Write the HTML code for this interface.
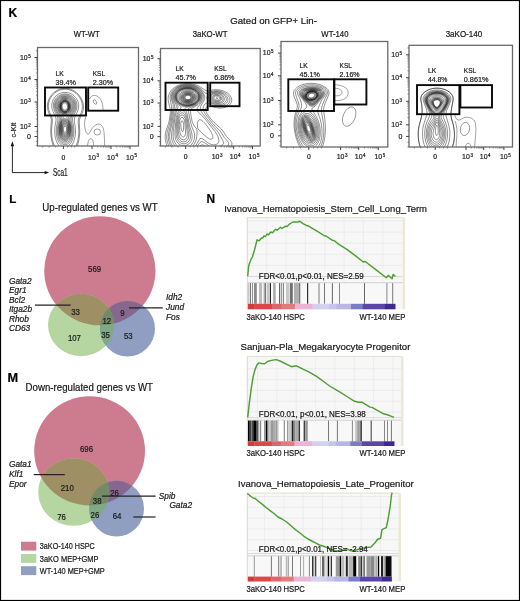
<!DOCTYPE html>
<html><head><meta charset="utf-8"><style>
html,body{margin:0;padding:0;background:#fff;overflow:hidden;width:520px;height:601px;}
#fig{position:relative;width:520px;height:601px;overflow:hidden;background:#fff;}
#fig svg{position:absolute;left:0;top:0;will-change:transform;}
text{font-family:"Liberation Sans",sans-serif;stroke:#222;stroke-width:0.22px;paint-order:stroke;}
</style></head><body><div id="fig">
<svg width="520" height="601" viewBox="0 0 520 601" font-family="Liberation Sans, sans-serif">
<rect x="0" y="0" width="520" height="601" fill="#fff"/>
<clipPath id="c1"><rect x="37.5" y="47.5" width="101.0" height="98.5"/></clipPath><g clip-path="url(#c1)">
<path d="M65.2,110.0 64.2,110.0 63.1,109.2 62.5,108.2 62.1,106.8 62.2,105.4 62.8,104.2 63.6,103.2 64.8,102.9 65.8,103.1 66.6,103.8 67.2,105.0 67.5,106.2 67.4,107.5 66.9,108.8 66.2,109.5 65.2,110.0 M65.5,110.8 64.2,110.8 63.0,110.1 62.0,108.8 61.6,107.2 61.6,105.5 62.2,103.8 63.2,102.6 64.5,102.1 65.8,102.3 66.8,103.0 67.6,104.2 68.0,105.8 68.0,107.5 67.5,109.0 66.5,110.2 65.5,110.8 M65.8,111.5 64.2,111.6 62.8,110.9 61.6,109.2 61.0,107.2 61.1,105.2 61.8,103.2 63.0,101.9 64.5,101.3 66.0,101.6 67.2,102.5 68.2,104.0 68.6,105.8 68.6,107.8 68.0,109.4 67.0,110.8 65.8,111.5 M65.2,111.8 63.8,111.6 62.2,110.6 61.2,108.8 60.8,106.8 61.1,104.5 62.0,102.8 63.2,101.6 64.8,101.2 66.2,101.5 67.5,102.5 68.4,104.2 68.8,106.2 68.6,108.2 67.8,110.0 66.8,111.1 65.2,111.8 M65.5,132.3 64.8,132.4 64.2,132.0 63.6,131.0 63.4,129.8 63.4,128.5 63.8,127.3 64.2,126.6 65.0,126.2 65.5,126.4 66.1,127.0 66.5,127.9 66.7,129.0 66.4,131.0 66.0,131.9 65.5,132.3 M65.0,112.0 63.5,111.7 62.0,110.5 61.0,108.8 60.7,106.5 61.0,104.2 61.9,102.5 63.2,101.4 64.8,100.9 66.2,101.3 67.7,102.5 68.6,104.2 69.0,106.2 68.7,108.5 67.8,110.2 66.5,111.5 65.0,112.0 M65.5,133.5 64.5,133.5 63.8,132.9 63.0,131.5 62.7,129.8 62.8,128.0 63.2,126.4 64.0,125.3 65.0,124.8 65.8,125.1 66.5,125.9 67.0,127.0 67.3,128.8 67.2,130.5 66.9,131.8 66.2,133.0 65.5,133.5 M65.2,112.3 64.2,112.2 63.5,112.0 62.0,110.9 60.9,109.0 60.5,106.8 60.7,104.5 61.6,102.5 63.0,101.2 63.8,100.9 64.8,100.7 66.2,101.0 67.8,102.2 68.8,104.0 69.2,106.0 69.0,108.2 68.1,110.2 66.8,111.7 65.2,112.3 M65.5,134.5 64.8,134.6 64.2,134.4 63.2,133.4 62.5,131.8 62.2,129.8 62.3,127.5 63.0,125.5 63.9,124.2 65.0,123.8 66.0,124.2 66.9,125.2 67.5,126.8 67.8,128.8 67.7,130.8 67.2,132.5 66.5,133.8 65.5,134.5 M65.8,112.5 64.0,112.5 63.0,112.1 62.2,111.5 60.9,109.8 60.3,107.2 60.4,104.8 61.2,102.6 62.8,101.0 64.5,100.4 66.2,100.6 67.8,101.7 68.9,103.5 69.4,105.5 69.3,107.8 68.6,110.0 67.2,111.7 65.8,112.5 M65.8,135.3 65.0,135.4 64.2,135.3 63.1,134.2 62.2,132.5 61.8,130.0 61.9,127.5 62.5,125.2 63.7,123.5 64.2,123.1 65.0,122.9 66.2,123.4 67.2,124.6 68.0,126.5 68.3,128.5 68.2,130.8 67.7,132.8 66.8,134.5 65.8,135.3 M65.2,113.0 64.2,113.0 63.2,112.7 61.7,111.5 61.0,110.5 60.4,109.2 59.9,106.8 60.2,104.2 61.2,102.0 62.8,100.6 63.8,100.1 64.8,100.0 66.5,100.3 67.5,101.0 68.2,101.8 69.3,103.8 69.7,106.0 69.5,108.5 68.5,110.8 67.0,112.3 65.2,113.0 M65.0,136.3 64.2,136.1 63.5,135.6 62.4,134.2 61.6,132.0 61.3,129.2 61.6,126.5 62.4,124.2 63.5,122.7 64.2,122.2 65.0,122.1 65.8,122.2 66.5,122.7 67.6,124.2 68.4,126.5 68.7,129.2 68.4,132.0 67.6,134.2 66.5,135.7 65.8,136.1 65.0,136.3 M66.0,113.3 65.0,113.5 64.0,113.4 63.0,113.0 62.0,112.3 61.2,111.5 60.4,110.2 59.6,107.5 59.7,104.8 60.6,102.2 61.3,101.2 62.2,100.4 63.2,99.8 64.2,99.5 65.2,99.5 66.2,99.8 68.0,100.9 69.3,102.8 70.1,105.2 70.0,108.0 69.1,110.5 67.8,112.3 66.0,113.3 M65.5,137.0 64.5,137.0 63.8,136.7 62.4,135.2 61.3,132.8 60.9,129.8 61.2,126.5 62.0,123.9 63.3,122.0 64.2,121.4 65.0,121.3 65.8,121.4 66.5,121.8 67.8,123.5 68.8,126.0 69.1,128.8 68.9,131.8 68.2,134.2 67.0,136.1 66.2,136.7 65.5,137.0 M65.5,114.0 64.5,114.0 63.2,113.7 62.2,113.2 61.2,112.3 59.8,110.0 59.4,108.5 59.1,107.0 59.1,105.5 59.4,104.0 60.5,101.5 61.3,100.5 62.2,99.8 63.5,99.2 64.5,99.0 65.8,99.1 66.8,99.4 68.6,100.8 69.4,101.8 70.1,103.2 70.6,105.8 70.4,108.5 69.4,111.0 68.5,112.2 67.5,113.1 66.5,113.7 65.5,114.0 M65.8,137.8 64.8,137.9 64.0,137.7 63.0,137.0 62.2,136.1 61.1,133.5 60.5,130.0 60.7,126.8 61.6,123.5 62.3,122.2 63.2,121.2 64.0,120.7 65.0,120.5 66.0,120.7 66.8,121.2 68.1,123.0 69.1,125.8 69.5,128.8 69.4,131.8 68.6,134.5 67.3,136.8 66.5,137.4 65.8,137.8 M65.2,114.8 64.0,114.7 63.0,114.3 61.8,113.5 60.8,112.5 59.9,111.2 59.2,109.8 58.7,108.0 58.5,106.5 58.6,105.0 58.9,103.5 60.1,101.0 61.0,100.0 62.2,99.1 63.5,98.5 64.8,98.4 66.0,98.5 67.2,98.9 68.2,99.5 69.3,100.5 70.7,102.8 71.2,104.2 71.3,105.8 71.3,107.2 70.9,109.0 69.6,111.8 68.6,113.0 67.5,113.9 66.2,114.6 65.2,114.8 M65.2,138.8 64.2,138.7 63.2,138.2 62.3,137.2 61.6,136.2 60.5,133.5 60.1,129.8 60.4,126.0 61.5,122.8 62.2,121.4 63.2,120.3 64.0,119.8 65.0,119.6 65.8,119.7 66.8,120.3 67.7,121.2 68.5,122.5 69.6,125.8 70.0,129.2 69.7,132.8 68.7,135.8 67.2,137.8 66.2,138.5 65.2,138.8 M65.2,115.8 64.0,115.6 62.8,115.0 61.5,114.1 60.2,112.8 59.1,111.0 58.4,109.5 57.9,107.8 57.8,106.2 57.8,104.8 58.2,103.2 58.8,101.8 59.6,100.5 60.8,99.4 62.0,98.5 63.5,97.9 64.8,97.8 66.0,97.9 67.5,98.3 68.8,99.0 69.9,100.0 70.9,101.2 71.7,102.5 72.2,104.0 72.4,105.5 72.3,107.0 71.9,108.8 71.1,110.5 70.1,112.2 69.0,113.6 67.8,114.7 66.5,115.4 65.2,115.8 M65.8,139.6 64.5,139.6 63.5,139.2 62.5,138.5 61.6,137.2 60.8,135.8 60.2,134.0 59.7,130.2 60.0,126.2 60.4,124.5 61.1,122.5 62.0,120.9 63.0,119.6 64.0,118.8 65.0,118.5 65.8,118.7 66.8,119.3 67.8,120.4 68.6,121.8 69.9,125.2 70.4,129.0 70.1,132.8 69.2,136.0 67.8,138.3 66.8,139.1 65.8,139.6 M65.0,140.5 64.0,140.3 63.0,139.8 62.0,138.9 61.2,137.8 59.9,134.8 59.4,131.2 59.4,127.8 60.1,124.2 61.1,121.8 63.3,118.0 63.4,117.2 63.0,116.5 60.1,113.5 58.6,111.2 57.4,108.5 57.0,105.8 57.1,104.0 57.6,102.5 58.4,101.0 59.4,99.8 60.5,98.7 62.0,97.8 63.5,97.3 65.0,97.2 66.5,97.4 68.2,98.0 69.8,98.9 71.0,100.0 72.0,101.2 72.8,102.7 73.2,104.2 73.3,105.8 72.9,108.2 71.7,111.0 70.0,113.5 67.3,116.5 66.8,117.2 67.0,118.2 69.3,122.5 70.3,125.8 70.8,130.0 70.3,134.0 69.4,136.8 68.2,138.7 66.8,140.0 66.0,140.4 65.0,140.5 M66.2,141.5 65.2,141.7 64.2,141.6 62.5,140.7 60.9,138.8 59.6,135.8 58.9,131.8 59.0,127.5 59.6,124.5 61.6,119.2 61.8,117.8 61.1,116.2 58.6,112.8 57.3,110.5 56.5,108.2 56.1,106.0 56.2,104.2 56.7,102.5 57.4,101.0 58.5,99.5 59.8,98.3 61.2,97.4 63.0,96.8 64.8,96.5 66.5,96.6 68.2,97.1 69.8,97.9 71.2,99.0 72.5,100.4 73.4,102.0 74.0,103.8 74.2,105.5 74.0,107.8 73.2,110.0 72.0,112.2 69.0,116.5 68.5,118.0 68.7,119.5 70.4,124.2 71.1,127.5 71.3,131.2 70.8,134.8 70.1,137.2 69.0,139.2 67.8,140.6 66.2,141.5 M66.0,143.1 65.0,143.2 64.0,143.0 63.0,142.6 61.9,141.8 60.2,139.5 58.9,136.5 58.2,132.8 58.2,129.0 58.8,125.2 60.4,119.8 60.5,118.2 59.8,116.2 57.2,112.0 56.2,110.0 55.6,108.0 55.3,106.0 55.4,104.0 55.9,102.2 56.7,100.5 57.8,99.0 59.2,97.7 61.0,96.7 62.8,96.1 64.8,95.8 66.8,95.9 68.5,96.4 70.2,97.2 71.9,98.5 73.2,100.0 74.2,101.8 74.8,103.5 75.0,105.5 74.8,107.8 74.1,110.0 73.1,112.0 70.5,116.2 69.8,118.5 69.9,120.2 71.4,125.5 71.9,128.8 72.0,132.2 71.5,135.8 70.6,138.5 69.2,140.7 67.8,142.2 66.0,143.1 M65.2,144.8 64.0,144.6 63.0,144.2 61.0,142.7 59.3,140.2 58.1,137.0 57.4,133.2 57.3,129.5 57.8,126.0 59.2,120.5 59.3,118.5 58.5,116.0 56.1,111.8 55.2,109.8 54.6,107.8 54.4,105.8 54.6,103.8 55.1,101.8 56.2,99.8 57.5,98.1 59.1,96.8 61.0,95.7 63.0,95.1 65.0,94.9 67.2,95.1 69.2,95.8 71.1,96.8 72.8,98.1 74.1,99.8 75.1,101.8 75.7,103.8 75.9,105.8 75.7,108.0 75.1,110.0 74.2,112.0 71.7,116.2 71.1,118.5 71.1,120.5 72.4,126.0 72.9,129.5 72.8,133.2 72.2,137.0 70.9,140.2 69.2,142.7 67.2,144.2 65.2,144.8 M62.6,146.0 60.8,144.6 59.1,142.5 57.8,139.8 56.8,136.8 56.3,133.2 56.3,129.5 56.6,126.2 57.8,120.8 57.9,118.5 57.2,116.2 54.9,111.8 54.1,109.8 53.5,107.2 53.4,105.0 53.7,102.8 54.4,100.8 55.6,98.8 57.0,97.2 58.8,95.8 60.8,94.7 62.8,94.1 65.0,93.9 67.2,94.1 69.5,94.8 71.5,95.8 73.2,97.2 74.7,98.8 75.9,100.8 76.7,103.0 77.0,105.2 76.9,107.5 76.4,109.8 75.4,112.0 73.1,116.2 72.4,118.8 72.5,120.8 73.6,126.2 73.9,129.5 73.9,133.2 73.4,136.8 72.5,139.8 71.1,142.5 69.5,144.6 67.7,146.0 M59.1,146.0 57.8,144.0 56.7,141.8 55.8,139.2 55.1,136.2 54.8,133.0 54.7,129.5 55.0,126.2 56.0,121.0 56.0,118.8 55.5,116.5 53.2,111.8 52.3,109.5 51.8,107.0 51.9,104.2 52.4,101.8 53.3,99.5 54.7,97.5 56.2,95.8 58.2,94.3 60.2,93.3 62.5,92.6 65.0,92.4 67.5,92.6 69.8,93.2 72.0,94.3 74.0,95.8 75.8,97.7 77.1,99.8 78.1,102.0 78.6,104.5 78.6,107.0 78.1,109.8 77.2,112.2 75.0,116.6 74.4,119.0 74.4,121.2 75.2,126.5 75.5,129.8 75.5,133.2 75.1,136.5 74.4,139.2 73.6,141.8 72.5,144.0 71.2,146.0 M54.4,146.0 52.6,140.5 52.0,137.5 51.7,134.2 51.6,129.2 52.3,121.8 52.3,119.2 51.8,117.2 49.6,112.2 48.7,109.5 48.3,106.2 48.6,103.0 49.4,100.2 50.6,97.8 52.4,95.2 54.5,93.1 57.0,91.4 59.5,90.2 62.2,89.4 65.2,89.2 68.0,89.4 70.8,90.2 73.5,91.5 76.0,93.3 78.2,95.5 80.1,98.2 81.4,101.0 82.2,103.8 82.4,107.0 82.1,110.0 81.2,112.8 78.9,117.5 78.3,119.8 78.2,122.2 78.8,130.0 78.7,134.8 77.8,140.5 76.1,146.0 M53.3,146.0 51.7,140.5 50.8,134.5 50.7,129.8 51.3,122.0 51.3,119.5 50.8,117.5 48.6,112.5 47.7,109.5 47.4,106.2 47.7,103.0 48.6,100.0 49.9,97.2 51.7,94.8 54.0,92.4 56.5,90.6 59.2,89.3 62.0,88.6 65.2,88.3 68.2,88.5 71.2,89.4 74.0,90.8 76.5,92.6 78.9,95.0 80.9,97.8 82.4,100.8 83.2,103.5 83.6,107.0 83.2,110.2 82.3,113.0 80.0,118.0 79.4,120.2 79.3,122.8 79.7,130.2 79.6,135.0 78.8,140.5 77.4,146.0" fill="none" stroke="#1a1a1a" stroke-width="0.5" stroke-opacity="0.95" stroke-linejoin="round"/>
<path d="M89.5,99 C90.5,96.5 92.5,95.3 94.5,95.4 C97.5,95.6 100.5,98 101.8,102 C102.8,105 103,108 103,110 M85.6,117 C84.2,121 84.2,127 85.6,131 C86.6,134 88.2,135.5 89.5,133 C91,129.5 93.5,125.5 97,124.2 C100.5,123.2 103,126 103.8,130.5 C104.4,135 104.6,141 104.6,147 M87.5,147 C87.6,143 88.6,139 90.5,138.6 C92.6,138.3 93.6,142 93.8,147" fill="none" stroke="#444" stroke-width="0.5"/>
<ellipse cx="97.3" cy="132" rx="3.2" ry="3.1" fill="none" stroke="#444" stroke-width="0.5"/>
<ellipse cx="95" cy="102" rx="1.4" ry="2.5" transform="rotate(-32 95 102)" fill="none" stroke="#444" stroke-width="0.5"/>
</g>
<rect x="37.5" y="47.5" width="101.0" height="98.5" fill="none" stroke="#6a6a6a" stroke-width="1.3"/>
<line x1="34.5" y1="57.5" x2="37.5" y2="57.5" stroke="#444" stroke-width="1"/>
<text x="19.98" y="59.90" font-size="7.7" fill="#222" textLength="7.74" lengthAdjust="spacingAndGlyphs">10</text>
<text x="28.27" y="57.73" font-size="4.47" fill="#222">5</text>
<line x1="34.5" y1="79.5" x2="37.5" y2="79.5" stroke="#444" stroke-width="1"/>
<text x="19.98" y="81.90" font-size="7.7" fill="#222" textLength="7.74" lengthAdjust="spacingAndGlyphs">10</text>
<text x="28.27" y="79.73" font-size="4.47" fill="#222">4</text>
<line x1="34.5" y1="102" x2="37.5" y2="102" stroke="#444" stroke-width="1"/>
<text x="19.98" y="104.40" font-size="7.7" fill="#222" textLength="7.74" lengthAdjust="spacingAndGlyphs">10</text>
<text x="28.27" y="102.23" font-size="4.47" fill="#222">3</text>
<line x1="34.5" y1="126.5" x2="37.5" y2="126.5" stroke="#444" stroke-width="1"/>
<text x="19.98" y="128.90" font-size="7.7" fill="#222" textLength="7.74" lengthAdjust="spacingAndGlyphs">10</text>
<text x="28.27" y="126.73" font-size="4.47" fill="#222">2</text>
<line x1="34.5" y1="136.5" x2="37.5" y2="136.5" stroke="#444" stroke-width="1"/>
<text x="31.00" y="139.00" font-size="7.0" text-anchor="end" font-weight="normal" font-style="normal" fill="#222">0</text>
<line x1="35.9" y1="119.12" x2="37.5" y2="119.12" stroke="#666" stroke-width="0.7"/>
<line x1="35.9" y1="114.81" x2="37.5" y2="114.81" stroke="#666" stroke-width="0.7"/>
<line x1="35.9" y1="111.75" x2="37.5" y2="111.75" stroke="#666" stroke-width="0.7"/>
<line x1="35.9" y1="109.38" x2="37.5" y2="109.38" stroke="#666" stroke-width="0.7"/>
<line x1="35.9" y1="107.44" x2="37.5" y2="107.44" stroke="#666" stroke-width="0.7"/>
<line x1="35.9" y1="105.80" x2="37.5" y2="105.80" stroke="#666" stroke-width="0.7"/>
<line x1="35.9" y1="104.37" x2="37.5" y2="104.37" stroke="#666" stroke-width="0.7"/>
<line x1="35.9" y1="103.12" x2="37.5" y2="103.12" stroke="#666" stroke-width="0.7"/>
<line x1="35.9" y1="95.23" x2="37.5" y2="95.23" stroke="#666" stroke-width="0.7"/>
<line x1="35.9" y1="91.26" x2="37.5" y2="91.26" stroke="#666" stroke-width="0.7"/>
<line x1="35.9" y1="88.45" x2="37.5" y2="88.45" stroke="#666" stroke-width="0.7"/>
<line x1="35.9" y1="86.27" x2="37.5" y2="86.27" stroke="#666" stroke-width="0.7"/>
<line x1="35.9" y1="84.49" x2="37.5" y2="84.49" stroke="#666" stroke-width="0.7"/>
<line x1="35.9" y1="82.99" x2="37.5" y2="82.99" stroke="#666" stroke-width="0.7"/>
<line x1="35.9" y1="81.68" x2="37.5" y2="81.68" stroke="#666" stroke-width="0.7"/>
<line x1="35.9" y1="80.53" x2="37.5" y2="80.53" stroke="#666" stroke-width="0.7"/>
<line x1="35.9" y1="72.88" x2="37.5" y2="72.88" stroke="#666" stroke-width="0.7"/>
<line x1="35.9" y1="69.00" x2="37.5" y2="69.00" stroke="#666" stroke-width="0.7"/>
<line x1="35.9" y1="66.25" x2="37.5" y2="66.25" stroke="#666" stroke-width="0.7"/>
<line x1="35.9" y1="64.12" x2="37.5" y2="64.12" stroke="#666" stroke-width="0.7"/>
<line x1="35.9" y1="62.38" x2="37.5" y2="62.38" stroke="#666" stroke-width="0.7"/>
<line x1="35.9" y1="60.91" x2="37.5" y2="60.91" stroke="#666" stroke-width="0.7"/>
<line x1="35.9" y1="59.63" x2="37.5" y2="59.63" stroke="#666" stroke-width="0.7"/>
<line x1="35.9" y1="58.51" x2="37.5" y2="58.51" stroke="#666" stroke-width="0.7"/>
<line x1="35.9" y1="50.88" x2="37.5" y2="50.88" stroke="#666" stroke-width="0.7"/>
<line x1="35.9" y1="131.50" x2="37.5" y2="131.50" stroke="#666" stroke-width="0.7"/>
<line x1="35.9" y1="141.50" x2="37.5" y2="141.50" stroke="#666" stroke-width="0.7"/>
<line x1="35.9" y1="145.50" x2="37.5" y2="145.50" stroke="#666" stroke-width="0.7"/>
<line x1="63.4" y1="146" x2="63.4" y2="149" stroke="#444" stroke-width="1"/>
<line x1="92" y1="146" x2="92" y2="149" stroke="#444" stroke-width="1"/>
<line x1="111" y1="146" x2="111" y2="149" stroke="#444" stroke-width="1"/>
<line x1="130" y1="146" x2="130" y2="149" stroke="#444" stroke-width="1"/>
<line x1="97.72" y1="146" x2="97.72" y2="147.6" stroke="#666" stroke-width="0.7"/>
<line x1="101.07" y1="146" x2="101.07" y2="147.6" stroke="#666" stroke-width="0.7"/>
<line x1="103.44" y1="146" x2="103.44" y2="147.6" stroke="#666" stroke-width="0.7"/>
<line x1="105.28" y1="146" x2="105.28" y2="147.6" stroke="#666" stroke-width="0.7"/>
<line x1="106.78" y1="146" x2="106.78" y2="147.6" stroke="#666" stroke-width="0.7"/>
<line x1="108.06" y1="146" x2="108.06" y2="147.6" stroke="#666" stroke-width="0.7"/>
<line x1="109.16" y1="146" x2="109.16" y2="147.6" stroke="#666" stroke-width="0.7"/>
<line x1="110.13" y1="146" x2="110.13" y2="147.6" stroke="#666" stroke-width="0.7"/>
<line x1="116.72" y1="146" x2="116.72" y2="147.6" stroke="#666" stroke-width="0.7"/>
<line x1="120.07" y1="146" x2="120.07" y2="147.6" stroke="#666" stroke-width="0.7"/>
<line x1="122.44" y1="146" x2="122.44" y2="147.6" stroke="#666" stroke-width="0.7"/>
<line x1="124.28" y1="146" x2="124.28" y2="147.6" stroke="#666" stroke-width="0.7"/>
<line x1="125.78" y1="146" x2="125.78" y2="147.6" stroke="#666" stroke-width="0.7"/>
<line x1="127.06" y1="146" x2="127.06" y2="147.6" stroke="#666" stroke-width="0.7"/>
<line x1="128.16" y1="146" x2="128.16" y2="147.6" stroke="#666" stroke-width="0.7"/>
<line x1="129.13" y1="146" x2="129.13" y2="147.6" stroke="#666" stroke-width="0.7"/>
<line x1="42.68" y1="146" x2="42.68" y2="147.6" stroke="#666" stroke-width="0.7"/>
<line x1="49.16" y1="146" x2="49.16" y2="147.6" stroke="#666" stroke-width="0.7"/>
<line x1="55.63" y1="146" x2="55.63" y2="147.6" stroke="#666" stroke-width="0.7"/>
<line x1="67.69" y1="146" x2="67.69" y2="147.6" stroke="#666" stroke-width="0.7"/>
<line x1="71.27" y1="146" x2="71.27" y2="147.6" stroke="#666" stroke-width="0.7"/>
<line x1="74.84" y1="146" x2="74.84" y2="147.6" stroke="#666" stroke-width="0.7"/>
<text x="63.40" y="159.50" font-size="6.8" text-anchor="middle" font-weight="normal" font-style="normal" fill="#222">0</text>
<text x="88.09" y="159.50" font-size="7.7" fill="#222" textLength="7.74" lengthAdjust="spacingAndGlyphs">10</text>
<text x="96.38" y="157.33" font-size="4.47" fill="#222">3</text>
<text x="107.09" y="159.50" font-size="7.7" fill="#222" textLength="7.74" lengthAdjust="spacingAndGlyphs">10</text>
<text x="115.38" y="157.33" font-size="4.47" fill="#222">4</text>
<text x="126.09" y="159.50" font-size="7.7" fill="#222" textLength="7.74" lengthAdjust="spacingAndGlyphs">10</text>
<text x="134.38" y="157.33" font-size="4.47" fill="#222">5</text>
<rect x="45" y="87.5" width="41" height="28.0" fill="none" stroke="#0a0a0a" stroke-width="1.9"/>
<rect x="88.2" y="87.5" width="30.0" height="23.200000000000003" fill="none" stroke="#0a0a0a" stroke-width="1.9"/>
<text x="55.60" y="75.80" font-size="7.8" text-anchor="start" font-weight="normal" font-style="normal" fill="#1a1a1a" textLength="8.2" lengthAdjust="spacingAndGlyphs">LK</text>
<text x="55.60" y="84.50" font-size="8.0" text-anchor="start" font-weight="normal" font-style="normal" fill="#1a1a1a" textLength="20.4" lengthAdjust="spacingAndGlyphs">39.4%</text>
<text x="92.70" y="75.80" font-size="7.8" text-anchor="start" font-weight="normal" font-style="normal" fill="#1a1a1a" textLength="12.4" lengthAdjust="spacingAndGlyphs">KSL</text>
<text x="92.70" y="84.50" font-size="8.0" text-anchor="start" font-weight="normal" font-style="normal" fill="#1a1a1a" textLength="20.4" lengthAdjust="spacingAndGlyphs">2.30%</text>
<text x="86.80" y="36.60" font-size="8.4" text-anchor="middle" font-weight="normal" font-style="normal" fill="#1a1a1a" textLength="26" lengthAdjust="spacingAndGlyphs">WT-WT</text>
<clipPath id="c2"><rect x="160.5" y="48.5" width="99.69999999999999" height="97.5"/></clipPath><g clip-path="url(#c2)">
<path d="M188.8,99.5 187.0,99.5 186.2,99.2 185.5,98.6 185.1,98.0 185.1,97.2 185.2,96.7 185.8,96.1 186.8,95.5 188.0,95.3 189.2,95.5 190.4,96.2 190.9,97.2 190.7,98.2 190.0,99.0 188.8,99.5 M188.5,100.0 187.2,100.0 186.2,99.8 185.4,99.2 184.7,98.5 184.4,97.8 184.5,96.9 185.0,96.0 185.6,95.5 187.0,94.9 188.8,94.9 190.2,95.4 191.1,96.2 191.5,97.5 191.0,98.8 190.0,99.6 188.5,100.0 M189.5,100.3 188.2,100.5 187.0,100.4 185.8,100.0 184.8,99.4 184.0,98.5 183.8,97.5 184.0,96.5 184.5,95.8 186.0,94.8 187.8,94.4 189.8,94.7 191.2,95.5 192.0,96.8 192.1,97.5 192.0,98.2 191.0,99.5 189.5,100.3 M189.2,100.8 187.8,100.9 186.2,100.7 185.0,100.1 184.0,99.3 183.4,98.2 183.2,97.2 183.5,96.2 184.3,95.2 186.0,94.3 188.2,94.0 190.2,94.4 191.9,95.5 192.4,96.2 192.6,97.0 192.4,98.5 191.2,99.9 189.2,100.8 M188.5,101.3 186.8,101.2 185.2,100.8 184.0,100.0 183.0,98.8 182.7,97.5 182.9,96.2 183.8,95.0 185.0,94.2 187.2,93.5 189.5,93.7 191.5,94.5 192.3,95.2 192.9,96.0 193.1,96.8 193.2,97.8 192.9,98.8 192.4,99.5 190.8,100.7 188.5,101.3 M189.5,101.5 187.5,101.7 185.8,101.4 184.2,100.8 183.0,99.8 182.2,98.5 182.1,97.0 182.5,95.8 183.5,94.5 184.5,93.9 185.8,93.4 188.2,93.0 190.8,93.6 192.0,94.2 192.8,95.0 193.5,96.0 193.8,97.0 193.7,98.0 193.4,99.0 192.8,99.8 191.8,100.7 189.5,101.5 M189.2,102.0 187.2,102.1 185.2,101.7 183.5,100.9 182.3,99.8 181.5,98.2 181.5,96.8 182.1,95.2 183.3,94.0 184.5,93.3 185.8,92.8 187.2,92.6 188.8,92.6 190.2,92.9 191.5,93.4 192.8,94.2 193.5,95.0 194.1,96.0 194.4,97.0 194.2,98.2 193.8,99.2 193.0,100.2 192.0,101.0 190.8,101.6 189.2,102.0 M189.0,102.5 186.8,102.5 184.5,102.0 182.8,101.0 181.4,99.5 180.8,98.0 180.8,96.2 181.8,94.5 183.2,93.2 184.5,92.6 186.2,92.1 187.8,92.0 189.5,92.1 191.0,92.5 192.2,93.1 193.5,94.0 194.3,95.0 194.9,96.2 195.0,97.5 194.7,98.8 194.2,99.8 193.3,100.8 192.0,101.6 190.5,102.2 189.0,102.5 M188.8,103.0 186.0,102.9 183.8,102.3 181.8,101.0 180.4,99.2 179.9,97.5 180.2,95.5 181.3,93.8 183.2,92.4 185.0,91.7 186.5,91.4 188.2,91.3 190.0,91.5 191.8,92.1 193.2,92.9 194.5,94.0 195.2,95.0 195.6,96.2 195.7,97.8 195.4,99.0 194.6,100.2 193.5,101.3 192.0,102.2 190.5,102.7 188.8,103.0 M189.2,103.5 186.2,103.5 183.5,102.8 181.2,101.5 179.7,99.8 179.0,97.8 178.9,96.5 179.1,95.5 180.2,93.5 182.0,92.0 183.8,91.2 185.5,90.7 187.5,90.5 189.5,90.6 191.5,91.1 193.2,91.9 194.6,93.0 195.7,94.2 196.4,95.8 196.5,97.2 196.3,98.5 195.6,100.0 194.5,101.2 193.0,102.3 191.2,103.1 189.2,103.5 M188.2,104.3 185.0,104.1 182.0,103.0 179.6,101.2 178.6,100.0 178.0,98.8 177.7,97.5 177.7,96.2 178.0,95.0 178.5,93.8 179.3,92.8 180.5,91.6 183.2,90.2 185.2,89.7 187.5,89.5 189.8,89.6 191.8,90.1 193.8,91.1 195.2,92.1 196.5,93.5 197.2,95.0 197.5,96.5 197.4,98.2 196.8,99.8 195.6,101.2 194.2,102.4 192.5,103.3 190.5,103.9 188.2,104.3 M189.5,104.8 185.8,104.9 182.8,104.3 180.0,102.8 178.9,101.8 177.8,100.5 177.1,99.2 176.7,98.0 176.6,96.5 176.8,95.2 177.2,94.0 178.0,92.8 179.0,91.6 180.2,90.7 182.2,89.6 184.8,88.9 187.2,88.6 189.8,88.8 192.0,89.3 194.2,90.3 196.0,91.6 197.4,93.2 198.3,95.0 198.5,97.0 198.2,98.8 197.3,100.5 195.9,102.0 194.0,103.3 192.0,104.2 189.5,104.8 M182.8,131.6 182.5,131.6 182.0,131.2 181.5,130.1 181.0,128.1 180.8,126.0 180.8,123.8 181.0,122.2 181.5,121.1 182.0,120.7 182.5,120.9 183.0,121.8 183.5,123.2 183.7,125.0 183.5,129.8 183.2,131.0 182.8,131.6 M189.5,105.0 185.8,105.2 182.8,104.6 181.2,103.9 179.8,103.0 178.4,101.8 177.4,100.5 176.8,99.2 176.4,98.0 176.2,96.5 176.4,95.2 176.8,94.0 177.6,92.8 178.7,91.5 180.0,90.5 182.0,89.4 184.5,88.7 187.0,88.4 189.8,88.5 192.2,89.1 194.5,90.1 196.2,91.4 197.7,93.0 198.5,94.8 198.8,96.8 198.5,98.8 197.6,100.5 196.2,102.0 194.2,103.5 192.0,104.4 189.5,105.0 M183.8,136.9 183.0,137.0 182.2,136.7 181.5,136.1 180.9,135.2 180.0,132.8 179.5,129.2 179.3,124.5 179.7,120.8 180.2,119.2 180.8,118.1 181.2,117.6 182.0,117.3 183.0,117.7 184.0,119.3 184.7,121.8 185.1,125.0 185.5,131.0 185.5,133.8 184.9,135.8 184.5,136.3 183.8,136.9 M187.8,105.5 185.5,105.5 183.5,105.2 181.8,104.6 180.0,103.6 178.4,102.2 177.2,100.8 176.3,99.2 175.9,97.5 175.9,95.8 176.3,94.2 177.1,92.8 178.2,91.5 179.5,90.4 181.2,89.4 183.2,88.7 185.5,88.2 188.0,88.1 190.2,88.3 192.5,88.9 194.5,89.8 196.3,91.0 197.8,92.5 198.6,94.0 199.2,95.8 199.2,97.5 198.7,99.2 197.7,101.0 196.2,102.5 194.5,103.7 192.5,104.6 190.2,105.2 187.8,105.5 M217.5,98.5 216.8,98.7 216.3,98.5 216.2,98.0 216.5,97.7 217.2,97.7 217.6,98.0 217.5,98.5 M184.0,139.8 183.0,139.8 182.0,139.5 181.0,138.9 180.2,138.0 179.5,136.8 179.0,135.4 178.4,131.8 178.3,124.8 178.8,119.8 179.2,117.9 180.0,116.2 181.0,115.2 182.0,114.8 183.0,115.1 183.8,115.7 184.5,117.0 185.2,118.8 185.8,122.0 187.3,133.0 187.3,135.5 186.7,137.5 185.6,139.0 184.9,139.5 184.0,139.8 M188.8,105.8 184.8,105.9 183.2,105.6 181.8,105.1 180.0,104.1 178.3,102.8 177.0,101.2 176.1,99.8 175.6,98.2 175.4,96.8 175.6,95.2 176.1,93.8 176.8,92.5 178.0,91.2 179.2,90.2 181.0,89.2 183.2,88.3 186.0,87.8 188.8,87.8 191.5,88.3 194.0,89.2 196.0,90.3 197.8,92.0 199.0,93.8 199.6,95.8 199.5,97.8 198.9,99.8 197.7,101.5 196.0,103.1 193.8,104.4 191.5,105.2 188.8,105.8 M218.2,100.0 216.5,100.2 214.9,99.5 214.4,99.0 214.0,98.2 214.1,97.5 214.3,97.0 215.2,96.3 216.2,96.1 217.5,96.2 218.6,96.8 219.3,97.5 219.6,98.5 219.1,99.5 218.2,100.0 M184.8,141.8 183.2,141.9 182.0,141.7 180.8,141.0 179.8,140.1 178.9,139.0 178.2,137.5 177.7,135.8 177.4,133.8 177.3,130.2 177.3,124.8 177.6,121.5 178.0,118.7 178.8,116.2 179.7,114.2 180.8,113.2 182.0,112.7 183.0,112.9 184.0,113.7 185.0,115.2 185.8,117.1 186.5,120.2 188.8,134.2 188.7,137.0 188.0,139.1 186.7,140.8 185.8,141.4 184.8,141.8 M185.8,106.5 183.2,106.4 181.2,105.6 178.8,103.8 176.7,101.5 175.4,99.2 175.0,97.2 175.1,95.2 175.8,93.2 177.1,91.5 179.0,89.9 181.2,88.7 183.8,87.9 186.8,87.5 189.5,87.5 192.2,88.1 194.8,89.1 196.2,90.0 197.7,91.2 198.7,92.5 199.6,94.0 200.0,95.5 200.1,97.0 199.9,98.5 199.3,100.0 198.5,101.2 197.2,102.6 196.0,103.6 194.2,104.6 190.5,105.8 185.8,106.5 M217.8,101.0 216.5,101.0 215.2,100.7 214.2,100.1 213.5,99.4 213.0,98.5 212.9,97.5 213.2,96.8 213.8,96.0 215.5,95.3 217.2,95.3 219.0,95.9 220.2,97.0 220.7,98.2 220.4,99.5 219.4,100.5 217.8,101.0 M184.5,143.8 183.0,143.8 181.5,143.4 180.0,142.6 178.8,141.5 177.8,140.1 177.0,138.5 176.5,136.8 176.2,134.5 176.2,130.8 176.5,123.5 176.9,120.0 177.4,117.2 178.2,114.5 179.2,112.5 180.5,111.1 182.0,110.5 183.2,110.7 184.3,111.5 185.3,113.0 186.3,115.2 187.1,118.2 188.5,126.2 190.1,132.8 190.4,135.0 190.3,138.0 189.8,139.5 189.1,140.8 188.2,141.9 187.2,142.8 186.0,143.4 184.5,143.8 M185.5,145.5 183.8,145.7 182.0,145.5 180.5,145.0 179.0,144.1 177.8,143.0 176.7,141.5 175.8,139.8 175.3,138.0 174.9,135.5 174.9,132.2 175.7,122.2 176.3,117.5 177.0,114.5 178.0,112.0 179.0,110.2 180.8,108.0 181.0,107.5 180.6,106.5 177.2,103.1 175.7,101.0 174.6,98.5 174.4,96.2 174.8,94.2 175.7,92.5 177.0,90.9 178.8,89.5 180.8,88.4 183.2,87.6 185.8,87.1 188.5,87.1 191.0,87.4 193.5,88.1 195.5,89.0 197.3,90.2 198.8,91.8 199.9,93.5 200.5,95.2 200.6,97.0 200.3,98.8 199.4,100.8 198.2,102.3 196.5,103.8 194.8,104.8 193.0,105.6 186.2,107.4 185.3,107.8 184.9,108.2 185.0,109.0 186.5,112.1 187.5,115.2 189.4,125.0 191.8,133.0 192.2,136.2 192.1,138.0 191.7,139.5 191.1,141.0 190.4,142.2 189.5,143.3 188.2,144.3 187.0,145.0 185.5,145.5 M218.0,101.8 216.5,101.7 215.0,101.4 213.8,100.7 212.7,99.8 212.1,98.8 211.9,97.5 212.2,96.5 213.1,95.5 215.0,94.6 217.2,94.6 219.5,95.4 221.0,96.6 221.7,98.2 221.6,99.2 221.3,100.0 220.0,101.2 218.0,101.8 M177.7,146.0 175.9,144.2 174.5,142.0 173.6,139.5 173.1,136.8 173.2,132.5 175.0,117.2 176.1,112.5 178.1,106.8 177.7,105.2 175.2,101.8 174.2,99.8 173.6,97.5 173.7,95.5 174.2,93.8 175.2,92.0 176.5,90.5 178.2,89.1 180.5,87.9 182.5,87.2 185.0,86.7 187.5,86.5 190.0,86.7 192.5,87.2 195.0,88.1 197.2,89.4 199.1,91.0 200.4,92.8 201.1,94.5 201.5,96.5 201.3,98.2 200.6,100.2 199.7,101.8 198.2,103.4 196.8,104.6 195.0,105.6 189.0,108.0 188.4,108.5 188.2,109.0 188.2,110.2 190.8,123.3 191.8,126.5 193.9,131.8 194.4,133.5 194.6,135.5 194.4,138.5 193.5,141.5 192.0,144.0 190.1,146.0 M217.8,102.8 215.8,102.5 214.0,101.9 212.5,101.0 211.4,99.8 210.8,98.2 210.9,96.8 211.5,95.5 212.7,94.5 214.0,93.9 215.2,93.7 218.0,93.8 219.5,94.3 220.8,95.0 221.7,95.8 222.5,96.8 223.0,97.8 223.1,98.8 223.0,99.8 222.5,100.8 221.7,101.5 220.5,102.2 219.2,102.6 217.8,102.8 M175.1,146.0 173.6,144.0 172.5,141.8 171.8,139.2 171.5,136.8 171.7,133.0 172.9,125.5 174.1,116.5 176.4,106.2 176.1,104.8 174.1,101.2 173.3,99.5 172.9,97.2 173.1,95.0 173.7,93.2 174.8,91.5 176.2,89.9 178.0,88.6 180.2,87.4 182.5,86.7 185.0,86.2 187.5,86.0 190.2,86.2 193.0,86.8 195.2,87.6 197.5,88.9 199.4,90.5 200.8,92.2 201.8,94.2 202.2,96.0 202.2,97.8 201.9,99.2 201.1,101.0 199.9,102.8 198.5,104.2 196.8,105.6 191.4,108.5 190.9,109.0 190.6,109.8 190.5,111.2 190.8,114.2 191.5,118.5 192.2,121.7 193.0,123.7 193.8,125.1 196.7,129.0 197.1,131.0 196.9,135.8 196.2,139.8 194.8,143.2 192.8,146.0 M219.0,103.5 216.5,103.5 214.2,102.9 212.2,101.8 210.9,100.5 209.9,98.8 209.8,97.2 210.3,95.8 211.3,94.5 212.5,93.7 214.0,93.2 215.8,92.9 217.5,93.0 219.2,93.4 220.8,94.1 222.2,95.0 223.2,96.0 224.0,97.2 224.4,98.5 224.3,99.8 224.0,100.8 223.2,101.8 222.0,102.6 220.8,103.2 219.0,103.5 M211.8,139.0 210.8,139.2 209.8,139.0 207.2,137.6 203.9,134.8 199.1,130.2 198.1,129.0 197.5,127.2 197.4,123.8 197.8,121.5 198.2,120.6 198.8,120.1 199.5,119.8 200.5,119.9 201.8,120.4 203.0,121.4 205.5,124.0 209.0,128.8 211.5,132.8 212.7,135.5 212.9,136.8 212.8,137.8 212.4,138.5 211.8,139.0 M172.5,146.0 171.2,143.8 170.3,141.5 169.8,139.0 169.6,136.5 169.9,133.0 171.8,124.3 174.5,106.5 174.5,105.2 174.3,104.2 172.7,100.5 172.2,98.8 172.0,96.8 172.2,95.0 172.9,93.0 174.0,91.2 175.5,89.6 177.5,88.1 179.8,86.9 182.2,86.1 184.8,85.6 187.5,85.4 192.0,85.9 194.0,86.4 196.2,87.4 198.0,88.4 199.8,89.7 201.2,91.2 202.2,92.8 202.9,94.2 203.3,96.0 203.4,97.5 203.1,99.0 202.6,100.5 201.6,102.2 197.4,107.8 197.1,109.0 197.2,110.5 198.3,112.2 202.8,116.5 205.2,119.2 215.4,132.0 217.6,135.8 218.4,138.0 218.9,140.0 218.8,142.0 218.4,142.8 217.8,143.6 215.8,144.6 213.2,144.9 211.5,144.5 209.5,143.7 207.5,142.5 203.0,139.1 201.8,138.5 200.8,138.4 200.0,138.8 199.2,139.6 196.8,144.0 195.5,146.0 M220.5,104.5 217.8,104.6 215.0,104.1 212.5,103.1 210.5,101.7 209.1,100.0 208.4,98.0 208.7,96.2 209.8,94.5 211.2,93.3 212.8,92.7 214.8,92.2 216.8,92.1 218.8,92.4 221.0,93.1 222.8,94.1 224.2,95.2 225.3,96.5 226.1,98.0 226.4,99.5 226.1,101.0 225.3,102.2 224.0,103.3 222.2,104.1 220.5,104.5 M170.8,146.0 169.7,143.8 168.9,141.5 168.4,139.0 168.3,136.5 168.8,132.0 170.5,125.5 171.2,121.8 173.1,108.0 173.2,106.0 173.1,104.5 171.7,100.2 171.3,98.2 171.3,96.2 171.6,94.5 172.4,92.5 173.6,90.8 175.2,89.1 177.2,87.6 179.8,86.4 182.0,85.6 184.8,85.1 187.5,84.9 190.0,85.1 192.2,85.4 194.8,86.2 197.0,87.1 199.0,88.4 200.7,89.8 202.2,91.5 203.3,93.2 204.6,96.2 204.7,97.5 204.7,98.5 203.8,100.8 201.3,105.0 200.6,106.5 200.3,108.2 200.6,110.0 201.4,111.8 202.8,113.8 211.5,124.7 217.4,131.2 219.6,134.5 223.1,141.2 223.6,142.8 223.5,143.8 223.0,144.5 222.1,145.2 220.8,146.0 M220.8,105.5 217.8,105.5 214.8,104.9 211.8,103.6 209.4,102.0 207.6,100.0 206.9,98.2 207.2,96.5 208.2,94.8 209.8,93.4 211.8,92.3 214.0,91.7 216.2,91.5 218.5,91.7 221.0,92.4 223.2,93.4 225.2,94.8 226.7,96.2 227.7,98.0 228.0,99.8 227.7,101.5 226.7,103.0 225.1,104.2 223.0,105.1 220.8,105.5 M209.3,146.0 203.8,142.3 202.8,141.8 201.8,141.7 200.8,141.9 200.0,142.5 197.4,146.0 M169.0,146.0 168.0,143.8 167.2,141.2 166.8,138.8 166.7,136.2 166.9,134.0 167.4,131.5 169.5,124.6 170.2,121.4 171.5,112.3 171.7,109.0 171.5,106.2 170.1,98.5 170.1,96.5 170.4,94.8 171.4,92.5 172.7,90.5 174.5,88.7 176.8,87.1 179.2,85.9 181.5,85.1 184.2,84.5 187.5,84.3 190.0,84.4 192.8,84.9 195.2,85.6 197.5,86.6 200.8,88.7 204.8,92.6 205.8,93.3 207.0,93.3 210.8,91.7 213.2,91.0 215.8,90.7 218.5,90.8 221.8,91.6 224.8,92.9 227.1,94.5 228.8,96.5 229.5,97.8 229.9,99.2 229.9,100.5 229.6,101.8 229.0,103.0 228.2,104.0 227.0,105.0 225.8,105.7 224.0,106.3 222.0,106.7 220.0,106.8 217.8,106.7 214.2,105.9 208.2,103.4 206.5,103.2 205.3,103.8 204.2,105.0 203.5,106.5 203.2,108.2 203.3,109.8 203.9,111.5 205.0,113.5 207.0,116.2 212.5,123.3 219.9,130.8 221.4,132.8 224.3,137.5 228.2,142.0 228.6,143.0 228.7,144.0 228.3,145.0 227.5,146.0 M205.3,146.0 203.5,145.1 202.2,144.8 201.0,145.1 199.9,146.0 M167.2,146.0 166.2,143.5 165.6,141.2 165.2,138.8 165.2,136.2 165.4,133.8 166.0,131.0 168.5,123.6 169.2,120.8 170.2,114.2 170.3,111.2 170.2,108.8 168.5,102.2 168.2,99.8 168.2,97.2 168.8,94.8 169.8,92.5 171.4,90.2 173.4,88.2 175.8,86.6 178.8,85.1 181.8,84.2 184.8,83.6 187.8,83.5 192.2,83.9 196.8,85.1 199.8,86.6 204.8,90.0 206.5,90.7 208.5,90.8 213.2,89.9 216.0,89.7 219.0,89.9 222.2,90.6 224.8,91.5 227.0,92.8 228.9,94.2 230.4,96.0 231.2,97.5 231.6,99.0 231.7,100.5 231.5,101.8 231.0,103.0 230.2,104.2 229.0,105.4 227.5,106.4 225.8,107.2 224.0,107.7 220.0,108.1 216.5,107.7 210.2,106.1 208.2,106.0 207.2,106.4 206.3,107.2 205.8,108.2 205.7,109.5 206.0,111.2 206.9,113.2 208.5,115.8 211.0,119.1 214.2,122.7 219.5,127.3 221.5,129.2 223.1,131.2 226.5,136.5 231.0,141.2 231.7,142.5 232.0,143.8 231.8,145.0 231.2,146.0" fill="none" stroke="#1a1a1a" stroke-width="0.5" stroke-opacity="0.95" stroke-linejoin="round"/>
</g>
<rect x="160.5" y="48.5" width="99.69999999999999" height="97.5" fill="none" stroke="#6a6a6a" stroke-width="1.3"/>
<line x1="157.5" y1="58.8" x2="160.5" y2="58.8" stroke="#444" stroke-width="1"/>
<text x="142.68" y="61.20" font-size="7.7" fill="#222" textLength="7.74" lengthAdjust="spacingAndGlyphs">10</text>
<text x="150.97" y="59.03" font-size="4.47" fill="#222">5</text>
<line x1="157.5" y1="80.8" x2="160.5" y2="80.8" stroke="#444" stroke-width="1"/>
<text x="142.68" y="83.20" font-size="7.7" fill="#222" textLength="7.74" lengthAdjust="spacingAndGlyphs">10</text>
<text x="150.97" y="81.03" font-size="4.47" fill="#222">4</text>
<line x1="157.5" y1="103" x2="160.5" y2="103" stroke="#444" stroke-width="1"/>
<text x="142.68" y="105.40" font-size="7.7" fill="#222" textLength="7.74" lengthAdjust="spacingAndGlyphs">10</text>
<text x="150.97" y="103.23" font-size="4.47" fill="#222">3</text>
<line x1="157.5" y1="126.4" x2="160.5" y2="126.4" stroke="#444" stroke-width="1"/>
<text x="142.68" y="128.80" font-size="7.7" fill="#222" textLength="7.74" lengthAdjust="spacingAndGlyphs">10</text>
<text x="150.97" y="126.63" font-size="4.47" fill="#222">2</text>
<line x1="157.5" y1="136.6" x2="160.5" y2="136.6" stroke="#444" stroke-width="1"/>
<text x="153.70" y="139.10" font-size="7.0" text-anchor="end" font-weight="normal" font-style="normal" fill="#222">0</text>
<line x1="158.9" y1="119.36" x2="160.5" y2="119.36" stroke="#666" stroke-width="0.7"/>
<line x1="158.9" y1="115.24" x2="160.5" y2="115.24" stroke="#666" stroke-width="0.7"/>
<line x1="158.9" y1="112.31" x2="160.5" y2="112.31" stroke="#666" stroke-width="0.7"/>
<line x1="158.9" y1="110.04" x2="160.5" y2="110.04" stroke="#666" stroke-width="0.7"/>
<line x1="158.9" y1="108.19" x2="160.5" y2="108.19" stroke="#666" stroke-width="0.7"/>
<line x1="158.9" y1="106.62" x2="160.5" y2="106.62" stroke="#666" stroke-width="0.7"/>
<line x1="158.9" y1="105.27" x2="160.5" y2="105.27" stroke="#666" stroke-width="0.7"/>
<line x1="158.9" y1="104.07" x2="160.5" y2="104.07" stroke="#666" stroke-width="0.7"/>
<line x1="158.9" y1="96.32" x2="160.5" y2="96.32" stroke="#666" stroke-width="0.7"/>
<line x1="158.9" y1="92.41" x2="160.5" y2="92.41" stroke="#666" stroke-width="0.7"/>
<line x1="158.9" y1="89.63" x2="160.5" y2="89.63" stroke="#666" stroke-width="0.7"/>
<line x1="158.9" y1="87.48" x2="160.5" y2="87.48" stroke="#666" stroke-width="0.7"/>
<line x1="158.9" y1="85.73" x2="160.5" y2="85.73" stroke="#666" stroke-width="0.7"/>
<line x1="158.9" y1="84.24" x2="160.5" y2="84.24" stroke="#666" stroke-width="0.7"/>
<line x1="158.9" y1="82.95" x2="160.5" y2="82.95" stroke="#666" stroke-width="0.7"/>
<line x1="158.9" y1="81.82" x2="160.5" y2="81.82" stroke="#666" stroke-width="0.7"/>
<line x1="158.9" y1="74.18" x2="160.5" y2="74.18" stroke="#666" stroke-width="0.7"/>
<line x1="158.9" y1="70.30" x2="160.5" y2="70.30" stroke="#666" stroke-width="0.7"/>
<line x1="158.9" y1="67.55" x2="160.5" y2="67.55" stroke="#666" stroke-width="0.7"/>
<line x1="158.9" y1="65.42" x2="160.5" y2="65.42" stroke="#666" stroke-width="0.7"/>
<line x1="158.9" y1="63.68" x2="160.5" y2="63.68" stroke="#666" stroke-width="0.7"/>
<line x1="158.9" y1="62.21" x2="160.5" y2="62.21" stroke="#666" stroke-width="0.7"/>
<line x1="158.9" y1="60.93" x2="160.5" y2="60.93" stroke="#666" stroke-width="0.7"/>
<line x1="158.9" y1="59.81" x2="160.5" y2="59.81" stroke="#666" stroke-width="0.7"/>
<line x1="158.9" y1="52.18" x2="160.5" y2="52.18" stroke="#666" stroke-width="0.7"/>
<line x1="158.9" y1="131.50" x2="160.5" y2="131.50" stroke="#666" stroke-width="0.7"/>
<line x1="158.9" y1="141.70" x2="160.5" y2="141.70" stroke="#666" stroke-width="0.7"/>
<line x1="158.9" y1="145.78" x2="160.5" y2="145.78" stroke="#666" stroke-width="0.7"/>
<line x1="185.7" y1="146" x2="185.7" y2="149" stroke="#444" stroke-width="1"/>
<line x1="215.6" y1="146" x2="215.6" y2="149" stroke="#444" stroke-width="1"/>
<line x1="233.7" y1="146" x2="233.7" y2="149" stroke="#444" stroke-width="1"/>
<line x1="252.5" y1="146" x2="252.5" y2="149" stroke="#444" stroke-width="1"/>
<line x1="221.05" y1="146" x2="221.05" y2="147.6" stroke="#666" stroke-width="0.7"/>
<line x1="224.24" y1="146" x2="224.24" y2="147.6" stroke="#666" stroke-width="0.7"/>
<line x1="226.50" y1="146" x2="226.50" y2="147.6" stroke="#666" stroke-width="0.7"/>
<line x1="228.25" y1="146" x2="228.25" y2="147.6" stroke="#666" stroke-width="0.7"/>
<line x1="229.68" y1="146" x2="229.68" y2="147.6" stroke="#666" stroke-width="0.7"/>
<line x1="230.90" y1="146" x2="230.90" y2="147.6" stroke="#666" stroke-width="0.7"/>
<line x1="231.95" y1="146" x2="231.95" y2="147.6" stroke="#666" stroke-width="0.7"/>
<line x1="232.87" y1="146" x2="232.87" y2="147.6" stroke="#666" stroke-width="0.7"/>
<line x1="239.36" y1="146" x2="239.36" y2="147.6" stroke="#666" stroke-width="0.7"/>
<line x1="242.67" y1="146" x2="242.67" y2="147.6" stroke="#666" stroke-width="0.7"/>
<line x1="245.02" y1="146" x2="245.02" y2="147.6" stroke="#666" stroke-width="0.7"/>
<line x1="246.84" y1="146" x2="246.84" y2="147.6" stroke="#666" stroke-width="0.7"/>
<line x1="248.33" y1="146" x2="248.33" y2="147.6" stroke="#666" stroke-width="0.7"/>
<line x1="249.59" y1="146" x2="249.59" y2="147.6" stroke="#666" stroke-width="0.7"/>
<line x1="250.68" y1="146" x2="250.68" y2="147.6" stroke="#666" stroke-width="0.7"/>
<line x1="251.64" y1="146" x2="251.64" y2="147.6" stroke="#666" stroke-width="0.7"/>
<line x1="165.54" y1="146" x2="165.54" y2="147.6" stroke="#666" stroke-width="0.7"/>
<line x1="171.84" y1="146" x2="171.84" y2="147.6" stroke="#666" stroke-width="0.7"/>
<line x1="178.14" y1="146" x2="178.14" y2="147.6" stroke="#666" stroke-width="0.7"/>
<line x1="190.19" y1="146" x2="190.19" y2="147.6" stroke="#666" stroke-width="0.7"/>
<line x1="193.92" y1="146" x2="193.92" y2="147.6" stroke="#666" stroke-width="0.7"/>
<line x1="197.66" y1="146" x2="197.66" y2="147.6" stroke="#666" stroke-width="0.7"/>
<text x="185.70" y="159.00" font-size="6.8" text-anchor="middle" font-weight="normal" font-style="normal" fill="#222">0</text>
<text x="211.69" y="159.00" font-size="7.7" fill="#222" textLength="7.74" lengthAdjust="spacingAndGlyphs">10</text>
<text x="219.98" y="156.83" font-size="4.47" fill="#222">3</text>
<text x="229.79" y="159.00" font-size="7.7" fill="#222" textLength="7.74" lengthAdjust="spacingAndGlyphs">10</text>
<text x="238.08" y="156.83" font-size="4.47" fill="#222">4</text>
<text x="248.59" y="159.00" font-size="7.7" fill="#222" textLength="7.74" lengthAdjust="spacingAndGlyphs">10</text>
<text x="256.88" y="156.83" font-size="4.47" fill="#222">5</text>
<rect x="165.5" y="82.7" width="42.19999999999999" height="27.299999999999997" fill="none" stroke="#0a0a0a" stroke-width="1.9"/>
<rect x="210.2" y="82.7" width="29.30000000000001" height="23.5" fill="none" stroke="#0a0a0a" stroke-width="1.9"/>
<text x="175.60" y="71.10" font-size="7.8" text-anchor="start" font-weight="normal" font-style="normal" fill="#1a1a1a" textLength="8.2" lengthAdjust="spacingAndGlyphs">LK</text>
<text x="175.60" y="80.00" font-size="8.0" text-anchor="start" font-weight="normal" font-style="normal" fill="#1a1a1a" textLength="20.3" lengthAdjust="spacingAndGlyphs">45.7%</text>
<text x="214.20" y="71.10" font-size="7.8" text-anchor="start" font-weight="normal" font-style="normal" fill="#1a1a1a" textLength="12.4" lengthAdjust="spacingAndGlyphs">KSL</text>
<text x="214.20" y="80.00" font-size="8.0" text-anchor="start" font-weight="normal" font-style="normal" fill="#1a1a1a" textLength="20.3" lengthAdjust="spacingAndGlyphs">6.86%</text>
<text x="210.10" y="36.60" font-size="8.4" text-anchor="middle" font-weight="normal" font-style="normal" fill="#1a1a1a" textLength="34.8" lengthAdjust="spacingAndGlyphs">3aKO-WT</text>
<clipPath id="c3"><rect x="281" y="41.5" width="106.80000000000001" height="105.5"/></clipPath><g clip-path="url(#c3)">
<path d="M312.0,97.8 310.8,97.9 309.5,97.6 308.8,96.9 308.4,96.0 308.6,95.0 309.5,94.0 310.5,93.5 312.0,93.2 313.0,93.4 313.9,93.8 314.5,94.5 314.6,95.2 314.4,96.0 313.9,96.8 313.0,97.4 312.0,97.8 M312.2,98.3 311.0,98.5 309.8,98.3 308.6,97.8 307.9,97.0 307.7,96.0 307.9,95.0 308.6,94.0 309.7,93.2 311.2,92.7 313.0,92.8 314.3,93.2 315.2,94.2 315.3,95.5 314.8,96.7 313.8,97.6 312.2,98.3 M311.2,99.0 309.2,98.8 308.2,98.3 307.6,97.8 307.2,97.0 307.0,96.2 307.3,94.8 308.5,93.4 310.5,92.4 312.5,92.1 314.5,92.6 315.4,93.2 316.0,94.2 316.1,95.2 315.8,96.2 315.1,97.2 314.0,98.1 312.8,98.7 311.2,99.0 M312.0,99.5 309.8,99.5 307.8,98.7 307.0,98.0 306.5,97.2 306.2,96.2 306.3,95.2 306.8,94.2 307.4,93.5 309.2,92.2 311.8,91.6 314.0,91.8 315.2,92.3 316.3,93.2 316.9,94.5 316.8,95.8 316.2,97.0 315.0,98.2 313.5,99.1 312.0,99.5 M312.2,99.6 310.0,99.7 308.0,99.0 307.1,98.2 306.5,97.5 306.2,96.8 306.2,95.8 306.4,94.8 306.9,94.0 308.5,92.6 310.8,91.7 313.2,91.6 314.8,92.0 316.0,92.8 316.8,94.0 317.0,95.2 316.6,96.5 315.5,97.9 314.0,98.9 312.2,99.6 M310.0,132.0 309.2,132.2 308.6,131.8 308.0,131.0 307.2,129.5 306.9,128.0 306.8,126.6 307.0,125.6 307.5,125.1 308.0,125.1 308.8,125.5 309.5,126.6 310.0,127.6 310.5,130.2 310.4,131.2 310.0,132.0 M311.5,99.8 309.2,99.6 308.2,99.2 307.2,98.5 306.6,97.8 306.1,96.8 306.0,95.8 306.3,94.8 306.9,93.8 307.7,93.0 309.8,91.9 312.2,91.4 313.5,91.5 314.8,91.9 316.0,92.6 316.9,93.8 317.1,95.0 316.8,96.2 316.0,97.5 314.8,98.6 313.2,99.4 311.5,99.8 M310.2,133.6 309.2,133.4 308.2,132.6 307.2,131.0 306.5,129.2 306.1,127.2 306.0,125.5 306.4,124.2 307.0,123.6 308.0,123.7 309.0,124.6 310.0,126.1 310.8,128.0 311.2,130.0 311.2,131.5 311.0,132.8 310.2,133.6 M312.5,99.8 310.5,100.0 308.8,99.6 307.2,98.7 306.1,97.2 305.9,95.8 306.4,94.2 307.8,92.8 309.5,91.8 312.0,91.3 314.2,91.6 316.0,92.4 317.1,93.8 317.3,94.5 317.2,95.5 316.4,97.2 314.8,98.8 312.5,99.8 M310.8,134.6 310.2,134.7 309.5,134.6 308.2,133.5 307.0,131.7 306.0,129.2 305.5,126.9 305.5,124.8 305.9,123.2 306.2,122.7 306.8,122.4 307.2,122.4 308.0,122.7 309.2,123.9 310.3,125.5 311.2,128.0 311.7,130.2 311.8,132.2 311.5,133.7 310.8,134.6 M312.2,100.0 311.0,100.2 309.8,100.1 307.7,99.2 306.8,98.5 306.1,97.8 305.7,96.8 305.6,95.8 305.9,94.8 306.3,94.0 308.0,92.4 310.5,91.4 313.2,91.2 315.0,91.6 316.5,92.6 317.3,93.8 317.5,95.2 317.0,96.8 315.8,98.2 314.0,99.4 312.2,100.0 M311.0,135.6 310.5,135.7 309.8,135.5 308.2,134.4 307.0,132.5 305.8,129.7 305.0,126.8 305.0,124.2 305.5,122.3 306.4,121.5 307.0,121.5 307.8,121.7 309.0,122.8 310.5,125.0 311.5,127.4 312.2,130.2 312.3,132.8 311.9,134.5 311.5,135.2 311.0,135.6 M312.5,100.3 310.2,100.4 308.0,99.7 307.0,99.0 306.2,98.2 305.4,96.5 305.6,94.8 306.6,93.2 308.5,91.9 310.8,91.1 313.2,91.0 315.5,91.6 317.1,92.8 317.8,94.2 317.6,96.0 316.6,97.8 314.8,99.3 312.5,100.3 M311.0,136.5 310.2,136.5 309.5,136.2 308.0,134.8 306.5,132.5 305.2,129.4 304.6,126.2 304.5,123.5 305.1,121.5 305.5,121.0 306.2,120.6 307.0,120.6 307.8,121.0 309.2,122.3 310.8,124.6 312.0,127.8 312.7,130.8 312.7,133.5 312.2,135.5 311.8,136.1 311.0,136.5 M311.8,100.8 310.5,100.8 309.0,100.4 307.8,99.9 306.5,99.0 305.7,98.0 305.2,97.0 305.0,95.8 305.2,94.8 305.7,93.8 306.6,92.8 307.8,92.0 309.2,91.3 310.8,90.9 312.2,90.7 313.8,90.8 315.2,91.2 316.8,92.0 317.8,93.2 318.2,94.8 317.9,96.2 316.8,98.0 315.2,99.4 313.5,100.3 311.8,100.8 M311.5,137.3 310.8,137.4 310.0,137.2 309.0,136.6 308.1,135.8 306.4,133.2 305.0,130.0 304.2,126.5 304.1,123.5 304.2,122.1 304.6,121.0 305.2,120.2 305.8,119.9 306.5,119.7 307.5,120.1 309.2,121.5 310.9,124.0 312.2,127.2 313.1,130.8 313.2,133.8 312.7,136.0 312.2,136.8 311.5,137.3 M311.8,101.3 310.2,101.2 308.8,100.7 307.2,99.9 306.1,99.0 305.3,98.0 304.8,96.8 304.7,95.5 304.9,94.5 305.4,93.5 306.4,92.5 307.8,91.6 309.0,91.0 310.5,90.6 312.2,90.4 313.8,90.5 315.2,90.9 317.0,91.8 318.2,93.0 318.7,94.5 318.4,96.0 317.5,97.8 315.5,99.7 313.5,100.9 311.8,101.3 M311.8,138.1 311.0,138.2 310.0,137.9 309.0,137.3 308.0,136.3 306.1,133.5 304.7,130.0 303.8,126.5 303.6,123.0 303.9,121.5 304.2,120.4 304.8,119.6 305.5,119.1 306.2,119.0 307.2,119.2 308.2,119.9 309.2,120.8 311.1,123.5 312.5,127.0 313.5,130.8 313.6,134.2 313.0,136.8 312.5,137.5 311.8,138.1 M312.0,102.0 310.8,101.9 309.2,101.4 307.5,100.4 306.0,99.2 305.1,98.2 304.5,97.0 304.2,95.8 304.4,94.5 304.8,93.5 305.8,92.4 307.0,91.5 308.5,90.8 311.8,90.1 313.5,90.2 315.0,90.4 317.0,91.2 318.5,92.5 319.2,94.0 319.1,95.5 318.2,97.5 316.2,99.7 314.0,101.4 313.0,101.8 312.0,102.0 M311.5,139.0 310.5,138.9 309.5,138.4 307.5,136.5 305.6,133.5 304.1,129.8 303.3,125.8 303.3,122.0 303.6,120.5 304.0,119.5 304.8,118.6 305.5,118.2 306.5,118.2 307.5,118.6 308.5,119.3 309.6,120.5 311.7,123.8 313.1,127.5 314.0,132.0 314.0,135.5 313.6,137.0 313.1,138.0 312.3,138.8 311.5,139.0 M312.8,102.8 311.0,102.8 308.8,101.7 306.0,99.7 304.4,97.8 303.7,95.8 303.8,94.0 304.8,92.5 306.2,91.4 307.8,90.7 309.8,90.1 311.8,89.8 314.0,89.9 316.0,90.3 317.5,91.0 318.8,92.0 319.6,93.0 319.9,94.0 319.9,95.0 319.5,96.2 318.8,97.5 317.2,99.3 315.2,101.3 314.0,102.2 312.8,102.8 M312.0,139.8 311.0,139.8 309.8,139.4 308.8,138.7 307.5,137.5 305.4,134.2 303.8,130.5 302.9,126.0 302.7,123.8 302.8,121.8 303.2,120.0 303.7,118.8 304.5,117.8 305.2,117.5 306.2,117.4 307.5,117.9 308.5,118.5 309.8,119.8 311.9,123.0 313.6,127.2 314.5,131.5 314.6,133.8 314.5,135.8 314.1,137.2 313.6,138.5 312.8,139.4 312.0,139.8 M312.8,103.5 311.2,103.5 309.5,102.8 306.0,100.1 304.2,98.0 303.3,96.0 303.1,94.0 303.7,92.5 305.2,91.2 307.0,90.4 309.5,89.7 311.8,89.4 313.8,89.5 315.8,89.8 317.8,90.6 319.2,91.5 320.3,92.8 320.7,93.8 320.6,95.0 320.1,96.2 319.3,97.5 317.5,99.7 315.2,102.0 314.0,103.0 312.8,103.5 M312.5,140.5 311.2,140.7 310.0,140.4 308.8,139.6 307.4,138.5 305.1,135.5 304.1,133.5 303.3,131.5 302.7,128.8 302.3,126.5 302.2,124.0 302.3,121.8 302.7,119.8 303.2,118.3 304.0,117.3 305.0,116.7 306.0,116.6 307.2,116.9 308.5,117.7 310.0,119.0 312.4,122.2 313.4,124.2 314.1,126.2 314.7,128.5 315.1,131.0 315.1,135.5 314.7,137.5 314.2,138.8 313.5,139.8 312.5,140.5 M313.0,104.0 311.5,104.2 309.8,103.5 305.8,100.2 304.0,98.2 302.8,96.0 302.4,94.0 302.8,92.5 304.2,91.1 306.2,90.1 308.5,89.5 311.0,89.1 313.5,89.1 315.8,89.4 317.8,90.1 319.5,91.0 320.8,92.2 321.3,93.2 321.4,94.2 321.1,95.5 320.4,96.8 318.6,99.0 315.8,102.1 314.2,103.4 313.0,104.0 M312.0,141.5 310.5,141.4 309.0,140.9 307.5,140.0 306.1,138.8 305.0,137.5 303.9,135.8 303.0,133.8 302.3,131.8 301.8,129.2 301.5,126.8 301.6,123.8 301.9,121.0 302.4,119.0 303.1,117.5 304.0,116.4 305.0,115.9 306.2,115.9 307.8,116.3 309.5,117.4 311.2,118.9 312.6,120.5 313.7,122.2 314.6,124.2 315.3,126.2 315.8,128.8 316.0,131.2 315.9,134.0 315.6,136.5 315.0,138.5 314.2,140.0 313.2,141.0 312.0,141.5 M313.0,104.6 311.2,104.7 309.5,103.9 305.2,100.1 303.7,98.2 302.2,95.8 301.7,94.0 301.8,93.0 302.2,92.2 303.5,90.9 305.5,89.9 307.8,89.2 310.5,88.8 313.2,88.7 316.0,89.1 318.2,89.8 320.2,90.9 321.5,92.1 322.0,93.0 322.1,94.0 321.8,95.2 321.1,96.5 315.8,102.7 314.2,104.0 313.0,104.6 M312.2,142.5 310.8,142.6 309.0,142.3 307.2,141.4 305.8,140.2 304.5,138.7 303.2,136.8 302.2,134.5 301.4,132.0 300.8,129.2 300.6,126.5 300.7,124.0 301.1,121.2 301.8,118.8 302.6,117.0 303.8,115.7 305.0,115.1 306.5,114.9 308.5,115.4 310.2,116.3 311.7,117.5 313.2,119.2 314.4,121.2 315.5,123.5 316.3,126.0 316.8,128.8 317.0,131.5 316.9,134.0 316.5,136.5 315.6,139.0 314.8,140.7 313.5,141.9 312.2,142.5 M312.8,105.3 311.0,105.3 310.0,104.9 309.0,104.3 304.5,99.8 302.4,97.0 301.1,94.8 300.9,93.2 301.6,91.8 303.0,90.5 305.2,89.3 307.8,88.7 310.8,88.3 313.8,88.3 316.5,88.7 319.0,89.5 321.0,90.6 322.4,92.0 322.8,93.0 322.8,94.0 322.4,95.2 321.7,96.5 315.8,103.4 314.2,104.6 312.8,105.3 M312.0,144.0 310.2,144.1 308.5,143.7 306.8,142.7 305.0,141.1 303.5,139.2 302.1,136.8 301.0,134.0 300.2,131.0 299.7,128.0 299.7,125.0 299.9,122.2 300.6,119.5 301.6,117.0 302.8,115.3 304.0,114.2 305.8,113.5 307.5,113.5 309.2,113.9 311.0,115.0 312.8,116.7 314.3,118.8 315.7,121.2 316.8,124.0 317.5,126.8 317.9,129.8 318.0,132.8 317.8,135.5 317.2,138.0 316.2,140.3 315.0,142.2 313.5,143.4 312.0,144.0 M312.2,106.3 310.5,106.1 309.5,105.6 308.5,104.9 303.6,99.5 300.7,95.5 300.1,94.0 300.2,92.5 301.1,91.0 302.8,89.8 305.2,88.7 307.8,88.0 311.0,87.7 314.2,87.8 317.2,88.3 320.0,89.3 322.0,90.5 323.2,91.8 323.7,93.0 323.6,94.0 323.2,95.2 322.3,96.5 315.5,104.4 314.0,105.6 312.2,106.3 M312.2,145.8 310.2,145.9 308.2,145.3 306.2,144.1 304.2,142.2 302.5,139.8 301.1,137.0 299.9,133.8 299.1,130.2 298.7,126.8 298.7,123.5 299.1,120.5 299.9,117.8 301.2,115.2 302.8,113.3 304.5,112.0 306.5,111.3 308.2,111.3 310.0,112.1 312.0,113.6 313.9,115.8 315.5,118.2 316.9,121.0 318.0,124.0 318.7,127.2 319.1,130.5 319.1,133.8 318.7,136.8 318.0,139.5 317.0,141.8 315.6,143.8 314.0,145.1 312.2,145.8 M311.8,147.8 309.2,147.5 306.8,146.3 304.2,144.2 302.1,141.2 300.1,137.5 298.8,133.8 297.9,129.2 297.7,125.0 297.8,122.2 298.2,119.8 298.8,117.2 299.8,115.0 301.8,112.0 303.2,110.4 306.2,107.8 306.8,107.0 306.9,106.5 306.5,105.0 305.2,102.8 299.5,95.0 299.1,93.5 299.3,92.0 299.9,91.0 300.9,90.0 303.8,88.5 307.5,87.4 311.8,87.0 314.2,87.2 316.8,87.5 319.0,88.1 320.8,88.8 322.5,89.8 323.8,91.0 324.4,92.0 324.6,93.2 324.3,94.5 323.5,96.0 316.6,104.5 315.0,106.2 312.1,108.2 311.8,108.8 312.1,110.0 316.1,116.2 318.3,121.0 319.2,123.8 319.8,126.5 320.2,129.2 320.3,132.2 320.2,135.2 319.7,138.2 319.0,140.8 318.0,143.0 316.8,144.8 315.2,146.3 313.5,147.3 311.8,147.8 M305.1,148.0 303.6,146.5 302.2,144.8 299.6,140.2 297.7,135.0 296.6,129.8 296.3,126.8 296.2,123.8 296.4,121.0 296.9,118.2 298.2,114.0 301.3,107.8 301.7,105.5 301.4,103.2 300.4,99.8 299.7,98.0 297.7,94.5 297.4,93.5 297.4,92.5 297.8,91.2 298.7,90.0 300.2,88.8 302.0,87.9 304.0,87.1 306.8,86.4 311.5,86.0 314.2,86.1 316.8,86.4 319.2,87.1 321.5,87.9 323.2,88.9 324.7,90.0 325.7,91.2 326.1,92.5 326.0,93.8 325.4,95.0 322.3,99.2 321.0,101.5 318.4,107.5 317.8,109.8 317.7,111.2 318.0,112.8 320.2,119.2 321.3,124.0 321.9,128.2 322.1,132.5 321.7,137.5 320.7,141.8 319.2,145.2 317.2,148.0 M302.3,148.0 300.0,144.2 297.9,139.8 296.3,134.8 295.3,129.5 295.0,124.0 295.4,118.8 296.4,114.5 298.8,108.0 299.1,105.8 298.6,103.0 296.8,98.0 295.8,94.8 295.5,93.5 295.5,92.2 296.1,90.8 297.0,89.5 298.8,88.0 300.8,86.9 302.8,86.1 305.5,85.3 308.2,84.9 311.2,84.7 314.2,84.8 317.2,85.3 320.0,86.1 322.2,86.9 324.5,88.2 326.1,89.5 327.1,90.8 327.6,92.2 327.5,93.2 327.1,94.5 325.3,98.0 322.7,104.2 321.9,106.8 321.5,108.8 321.5,112.2 322.9,119.8 323.6,124.8 323.8,129.0 323.8,132.8 323.4,137.2 322.6,141.2 321.4,145.0 319.9,148.0 M300.4,148.0 298.4,144.0 296.6,139.5 295.2,134.2 294.4,129.5 294.0,124.2 294.3,119.0 295.1,114.8 297.1,108.2 297.4,106.0 297.2,104.5 296.8,103.0 293.9,96.0 293.6,94.0 293.6,92.2 294.2,90.5 295.5,88.8 297.2,87.2 299.5,85.9 302.0,84.8 305.0,84.0 308.0,83.4 311.0,83.3 314.0,83.4 317.0,83.9 319.8,84.6 322.8,85.8 325.2,87.2 327.0,88.6 328.4,90.2 328.9,91.8 329.0,93.0 328.7,94.5 327.4,98.0 324.8,103.8 323.7,107.8 323.7,111.2 324.8,118.8 325.2,123.0 325.4,127.5 325.3,131.8 324.9,136.5 324.2,140.8 323.2,144.5 321.8,148.0" fill="none" stroke="#1a1a1a" stroke-width="0.5" stroke-opacity="0.95" stroke-linejoin="round"/>
<path d="M333.5,84.6 C338,84.6 343.5,85.6 346.5,88.5 C349,91 348.6,95.5 345.5,98.3 C342.5,100.6 337.5,100.8 333.5,100.5 M333.5,88.1 C337,88.2 340.5,88.8 341.7,91 C342.8,93.2 341.2,95.2 338.5,95.7 C336.8,96 335,95.9 333.5,95.8" fill="none" stroke="#444" stroke-width="0.5"/>
<ellipse cx="349.2" cy="116.6" rx="6.0" ry="10.2" transform="rotate(22 349.2 116.6)" fill="none" stroke="#444" stroke-width="0.5"/>
</g>
<rect x="281" y="41.5" width="106.80000000000001" height="105.5" fill="none" stroke="#6a6a6a" stroke-width="1.3"/>
<line x1="278" y1="53" x2="281" y2="53" stroke="#444" stroke-width="1"/>
<text x="262.78" y="55.40" font-size="7.7" fill="#222" textLength="7.74" lengthAdjust="spacingAndGlyphs">10</text>
<text x="271.07" y="53.23" font-size="4.47" fill="#222">5</text>
<line x1="278" y1="75.8" x2="281" y2="75.8" stroke="#444" stroke-width="1"/>
<text x="262.78" y="78.20" font-size="7.7" fill="#222" textLength="7.74" lengthAdjust="spacingAndGlyphs">10</text>
<text x="271.07" y="76.03" font-size="4.47" fill="#222">4</text>
<line x1="278" y1="100.5" x2="281" y2="100.5" stroke="#444" stroke-width="1"/>
<text x="262.78" y="102.90" font-size="7.7" fill="#222" textLength="7.74" lengthAdjust="spacingAndGlyphs">10</text>
<text x="271.07" y="100.73" font-size="4.47" fill="#222">3</text>
<line x1="278" y1="124.8" x2="281" y2="124.8" stroke="#444" stroke-width="1"/>
<text x="262.78" y="127.20" font-size="7.7" fill="#222" textLength="7.74" lengthAdjust="spacingAndGlyphs">10</text>
<text x="271.07" y="125.03" font-size="4.47" fill="#222">2</text>
<line x1="278" y1="135.8" x2="281" y2="135.8" stroke="#444" stroke-width="1"/>
<text x="273.80" y="138.30" font-size="7.0" text-anchor="end" font-weight="normal" font-style="normal" fill="#222">0</text>
<line x1="279.4" y1="117.48" x2="281" y2="117.48" stroke="#666" stroke-width="0.7"/>
<line x1="279.4" y1="113.21" x2="281" y2="113.21" stroke="#666" stroke-width="0.7"/>
<line x1="279.4" y1="110.17" x2="281" y2="110.17" stroke="#666" stroke-width="0.7"/>
<line x1="279.4" y1="107.82" x2="281" y2="107.82" stroke="#666" stroke-width="0.7"/>
<line x1="279.4" y1="105.89" x2="281" y2="105.89" stroke="#666" stroke-width="0.7"/>
<line x1="279.4" y1="104.26" x2="281" y2="104.26" stroke="#666" stroke-width="0.7"/>
<line x1="279.4" y1="102.85" x2="281" y2="102.85" stroke="#666" stroke-width="0.7"/>
<line x1="279.4" y1="101.61" x2="281" y2="101.61" stroke="#666" stroke-width="0.7"/>
<line x1="279.4" y1="93.06" x2="281" y2="93.06" stroke="#666" stroke-width="0.7"/>
<line x1="279.4" y1="88.72" x2="281" y2="88.72" stroke="#666" stroke-width="0.7"/>
<line x1="279.4" y1="85.63" x2="281" y2="85.63" stroke="#666" stroke-width="0.7"/>
<line x1="279.4" y1="83.24" x2="281" y2="83.24" stroke="#666" stroke-width="0.7"/>
<line x1="279.4" y1="81.28" x2="281" y2="81.28" stroke="#666" stroke-width="0.7"/>
<line x1="279.4" y1="79.63" x2="281" y2="79.63" stroke="#666" stroke-width="0.7"/>
<line x1="279.4" y1="78.19" x2="281" y2="78.19" stroke="#666" stroke-width="0.7"/>
<line x1="279.4" y1="76.93" x2="281" y2="76.93" stroke="#666" stroke-width="0.7"/>
<line x1="279.4" y1="68.94" x2="281" y2="68.94" stroke="#666" stroke-width="0.7"/>
<line x1="279.4" y1="64.92" x2="281" y2="64.92" stroke="#666" stroke-width="0.7"/>
<line x1="279.4" y1="62.07" x2="281" y2="62.07" stroke="#666" stroke-width="0.7"/>
<line x1="279.4" y1="59.86" x2="281" y2="59.86" stroke="#666" stroke-width="0.7"/>
<line x1="279.4" y1="58.06" x2="281" y2="58.06" stroke="#666" stroke-width="0.7"/>
<line x1="279.4" y1="56.53" x2="281" y2="56.53" stroke="#666" stroke-width="0.7"/>
<line x1="279.4" y1="55.21" x2="281" y2="55.21" stroke="#666" stroke-width="0.7"/>
<line x1="279.4" y1="54.04" x2="281" y2="54.04" stroke="#666" stroke-width="0.7"/>
<line x1="279.4" y1="46.14" x2="281" y2="46.14" stroke="#666" stroke-width="0.7"/>
<line x1="279.4" y1="130.30" x2="281" y2="130.30" stroke="#666" stroke-width="0.7"/>
<line x1="279.4" y1="141.30" x2="281" y2="141.30" stroke="#666" stroke-width="0.7"/>
<line x1="279.4" y1="145.70" x2="281" y2="145.70" stroke="#666" stroke-width="0.7"/>
<line x1="308.8" y1="147" x2="308.8" y2="150" stroke="#444" stroke-width="1"/>
<line x1="340.6" y1="147" x2="340.6" y2="150" stroke="#444" stroke-width="1"/>
<line x1="358.7" y1="147" x2="358.7" y2="150" stroke="#444" stroke-width="1"/>
<line x1="378.3" y1="147" x2="378.3" y2="150" stroke="#444" stroke-width="1"/>
<line x1="346.05" y1="147" x2="346.05" y2="148.6" stroke="#666" stroke-width="0.7"/>
<line x1="349.24" y1="147" x2="349.24" y2="148.6" stroke="#666" stroke-width="0.7"/>
<line x1="351.50" y1="147" x2="351.50" y2="148.6" stroke="#666" stroke-width="0.7"/>
<line x1="353.25" y1="147" x2="353.25" y2="148.6" stroke="#666" stroke-width="0.7"/>
<line x1="354.68" y1="147" x2="354.68" y2="148.6" stroke="#666" stroke-width="0.7"/>
<line x1="355.90" y1="147" x2="355.90" y2="148.6" stroke="#666" stroke-width="0.7"/>
<line x1="356.95" y1="147" x2="356.95" y2="148.6" stroke="#666" stroke-width="0.7"/>
<line x1="357.87" y1="147" x2="357.87" y2="148.6" stroke="#666" stroke-width="0.7"/>
<line x1="364.60" y1="147" x2="364.60" y2="148.6" stroke="#666" stroke-width="0.7"/>
<line x1="368.05" y1="147" x2="368.05" y2="148.6" stroke="#666" stroke-width="0.7"/>
<line x1="370.50" y1="147" x2="370.50" y2="148.6" stroke="#666" stroke-width="0.7"/>
<line x1="372.40" y1="147" x2="372.40" y2="148.6" stroke="#666" stroke-width="0.7"/>
<line x1="373.95" y1="147" x2="373.95" y2="148.6" stroke="#666" stroke-width="0.7"/>
<line x1="375.26" y1="147" x2="375.26" y2="148.6" stroke="#666" stroke-width="0.7"/>
<line x1="376.40" y1="147" x2="376.40" y2="148.6" stroke="#666" stroke-width="0.7"/>
<line x1="377.40" y1="147" x2="377.40" y2="148.6" stroke="#666" stroke-width="0.7"/>
<line x1="286.56" y1="147" x2="286.56" y2="148.6" stroke="#666" stroke-width="0.7"/>
<line x1="293.51" y1="147" x2="293.51" y2="148.6" stroke="#666" stroke-width="0.7"/>
<line x1="300.46" y1="147" x2="300.46" y2="148.6" stroke="#666" stroke-width="0.7"/>
<line x1="313.57" y1="147" x2="313.57" y2="148.6" stroke="#666" stroke-width="0.7"/>
<line x1="317.55" y1="147" x2="317.55" y2="148.6" stroke="#666" stroke-width="0.7"/>
<line x1="321.52" y1="147" x2="321.52" y2="148.6" stroke="#666" stroke-width="0.7"/>
<text x="308.80" y="159.00" font-size="6.8" text-anchor="middle" font-weight="normal" font-style="normal" fill="#222">0</text>
<text x="336.69" y="159.00" font-size="7.7" fill="#222" textLength="7.74" lengthAdjust="spacingAndGlyphs">10</text>
<text x="344.98" y="156.83" font-size="4.47" fill="#222">3</text>
<text x="354.79" y="159.00" font-size="7.7" fill="#222" textLength="7.74" lengthAdjust="spacingAndGlyphs">10</text>
<text x="363.08" y="156.83" font-size="4.47" fill="#222">4</text>
<text x="374.39" y="159.00" font-size="7.7" fill="#222" textLength="7.74" lengthAdjust="spacingAndGlyphs">10</text>
<text x="382.68" y="156.83" font-size="4.47" fill="#222">5</text>
<rect x="288.3" y="79.3" width="45.69999999999999" height="31.700000000000003" fill="none" stroke="#0a0a0a" stroke-width="1.9"/>
<rect x="334.4" y="79.3" width="32.0" height="25.200000000000003" fill="none" stroke="#0a0a0a" stroke-width="1.9"/>
<text x="299.60" y="67.60" font-size="7.8" text-anchor="start" font-weight="normal" font-style="normal" fill="#1a1a1a" textLength="8.2" lengthAdjust="spacingAndGlyphs">LK</text>
<text x="299.60" y="76.50" font-size="8.0" text-anchor="start" font-weight="normal" font-style="normal" fill="#1a1a1a" textLength="20.3" lengthAdjust="spacingAndGlyphs">45.1%</text>
<text x="339.60" y="67.60" font-size="7.8" text-anchor="start" font-weight="normal" font-style="normal" fill="#1a1a1a" textLength="12.4" lengthAdjust="spacingAndGlyphs">KSL</text>
<text x="339.60" y="76.50" font-size="8.0" text-anchor="start" font-weight="normal" font-style="normal" fill="#1a1a1a" textLength="20.0" lengthAdjust="spacingAndGlyphs">2.16%</text>
<text x="334.90" y="36.60" font-size="8.4" text-anchor="middle" font-weight="normal" font-style="normal" fill="#1a1a1a" textLength="27.1" lengthAdjust="spacingAndGlyphs">WT-140</text>
<clipPath id="c4"><rect x="409" y="45.3" width="103.5" height="101.7"/></clipPath><g clip-path="url(#c4)">
<path d="M437.5,107.0 436.5,107.1 435.4,106.5 434.2,105.0 433.5,103.2 433.4,102.2 433.7,101.2 434.5,100.5 435.5,100.0 437.0,99.8 438.2,100.0 439.5,100.8 440.1,101.8 440.2,102.8 439.8,104.3 438.8,105.9 437.5,107.0 M437.0,107.5 435.9,107.2 434.8,106.2 433.5,104.1 433.1,102.5 433.2,101.3 433.8,100.5 435.0,99.8 436.2,99.5 437.8,99.5 439.1,100.0 440.0,100.8 440.6,102.0 440.4,103.5 439.5,105.3 438.2,106.9 437.0,107.5 M437.5,107.8 436.2,107.8 435.2,107.2 433.8,105.2 432.8,103.0 432.7,101.8 433.1,100.8 434.0,99.8 435.3,99.2 437.2,99.1 439.0,99.5 440.2,100.4 440.9,101.5 440.9,102.8 440.2,104.5 438.8,106.7 437.5,107.8 M437.0,108.3 435.8,107.9 434.5,106.7 432.9,104.2 432.3,102.2 432.4,101.0 433.2,99.9 434.5,99.1 436.2,98.7 438.0,98.8 439.8,99.4 440.9,100.5 441.3,101.8 441.0,103.5 439.8,105.8 438.2,107.6 437.0,108.3 M437.5,108.6 436.2,108.6 435.0,107.8 433.0,105.0 431.9,102.5 431.8,101.2 432.4,100.0 433.7,99.0 435.2,98.4 437.5,98.3 439.5,98.8 441.0,99.8 441.5,100.5 441.8,101.2 441.7,102.8 440.8,104.8 439.0,107.3 437.5,108.6 M437.0,109.3 436.2,109.2 435.5,108.8 434.1,107.2 431.8,103.8 431.2,101.8 431.5,100.2 432.6,99.0 434.2,98.1 436.5,97.7 438.8,97.9 440.8,98.8 442.0,100.0 442.4,101.5 441.9,103.5 439.9,106.8 438.2,108.7 437.0,109.3 M437.0,110.0 436.2,110.0 435.5,109.6 433.9,108.0 431.1,103.8 430.4,101.5 430.4,100.5 430.7,99.8 432.0,98.3 433.8,97.3 436.2,96.8 439.0,97.1 441.0,97.8 442.7,99.2 443.1,100.0 443.3,101.0 442.9,103.0 440.6,106.8 438.8,109.1 437.8,109.8 437.0,110.0 M437.2,110.8 436.2,110.7 435.0,110.1 433.8,109.2 432.5,107.9 431.4,106.2 430.5,104.5 429.8,102.8 429.5,101.2 429.6,100.2 429.9,99.2 430.6,98.2 431.5,97.3 433.8,96.1 436.5,95.6 439.5,95.9 442.0,97.0 443.0,97.8 443.7,98.8 444.2,99.8 444.3,100.8 444.2,102.2 443.8,103.8 442.0,107.1 441.0,108.4 439.8,109.5 438.5,110.3 437.2,110.8 M437.5,112.1 436.2,112.0 435.0,111.5 433.5,110.4 432.2,109.1 430.9,107.2 429.6,105.0 428.8,103.0 428.4,101.2 428.4,100.0 428.8,98.8 429.3,97.8 430.2,96.8 431.2,96.0 432.7,95.2 435.8,94.5 437.5,94.5 439.2,94.7 441.0,95.1 442.5,95.8 443.8,96.7 444.7,97.8 445.3,99.0 445.6,100.2 445.5,101.8 445.0,103.5 444.1,105.5 442.8,107.7 441.5,109.3 440.2,110.5 438.8,111.6 437.5,112.1 M437.5,113.3 436.2,113.3 435.0,112.7 433.5,111.6 431.9,110.0 430.3,107.8 428.8,105.0 427.9,102.8 427.5,101.0 427.5,99.5 427.9,98.2 428.5,97.2 429.5,96.1 430.8,95.2 432.2,94.5 434.0,94.0 435.8,93.7 437.8,93.6 439.5,93.8 441.2,94.3 443.0,95.1 444.4,96.0 445.5,97.2 446.2,98.5 446.5,99.8 446.4,101.5 445.9,103.2 444.9,105.5 443.4,108.0 442.0,109.9 440.5,111.5 439.0,112.6 437.5,113.3 M436.8,135.5 436.2,135.2 435.8,134.1 435.4,132.5 435.4,130.8 435.6,128.5 436.0,126.5 436.5,125.5 437.0,125.3 437.5,125.9 438.0,127.5 438.3,131.2 438.1,133.0 437.8,134.5 437.2,135.3 436.8,135.5 M437.2,114.0 436.2,114.0 434.8,113.1 433.0,111.7 431.5,110.0 429.8,107.5 428.2,104.5 427.3,102.2 427.1,100.5 427.2,99.0 427.6,97.8 428.5,96.5 429.6,95.5 431.0,94.6 432.8,93.9 434.5,93.5 436.5,93.3 438.5,93.3 440.5,93.7 442.2,94.3 443.8,95.1 445.0,96.0 446.0,97.2 446.7,98.5 446.9,100.0 446.7,101.8 446.1,103.8 444.8,106.2 443.2,108.8 442.0,110.5 440.5,112.0 438.8,113.3 437.2,114.0 M436.8,139.8 435.5,139.4 434.2,138.0 433.4,136.0 433.0,133.5 433.5,130.5 435.1,125.2 436.0,123.1 436.5,122.4 437.0,122.3 437.5,122.7 437.8,123.2 438.8,126.0 439.5,130.0 439.7,133.0 439.5,135.5 438.9,137.5 438.0,139.0 437.4,139.5 436.8,139.8 M437.2,114.8 436.2,114.7 434.5,113.5 432.8,112.0 431.2,110.2 429.4,107.2 427.8,104.2 427.0,102.0 426.7,100.2 426.9,98.8 427.4,97.5 428.2,96.3 429.4,95.2 430.8,94.4 432.5,93.7 434.5,93.2 436.5,93.0 438.8,93.1 440.8,93.5 442.5,94.1 444.2,95.0 445.5,96.0 446.5,97.2 447.0,98.5 447.3,100.0 447.1,101.8 446.4,103.8 445.1,106.2 443.5,109.0 440.8,112.3 438.5,114.1 437.2,114.8 M437.2,142.1 436.2,142.2 435.0,141.8 434.0,141.1 433.0,140.0 431.8,137.5 431.3,135.8 431.2,134.0 431.4,131.2 432.1,128.8 435.7,121.5 436.2,120.7 436.8,120.3 437.2,120.4 437.8,121.0 438.9,123.8 440.6,129.5 441.1,133.2 440.9,136.2 440.1,138.8 438.8,141.0 437.2,142.1 M437.2,116.1 436.8,116.2 436.2,115.9 432.8,112.6 430.9,110.2 429.2,107.5 427.5,104.2 426.6,102.0 426.4,100.2 426.5,98.8 427.0,97.5 427.8,96.2 429.2,95.0 430.8,94.0 432.5,93.3 434.5,92.9 436.5,92.7 438.8,92.8 440.8,93.1 442.5,93.7 444.2,94.6 445.7,95.8 446.8,97.0 447.3,98.2 447.6,99.8 447.5,101.5 446.9,103.2 445.8,105.5 444.1,108.5 441.5,112.0 437.2,116.1 M437.2,144.1 436.0,144.2 434.5,143.7 433.2,142.9 432.0,141.5 431.0,139.8 430.4,138.0 430.0,136.0 429.8,133.8 430.2,130.2 431.2,127.0 434.0,122.6 436.0,118.9 436.5,118.2 437.0,118.0 437.5,118.5 438.2,119.9 441.4,127.8 442.1,130.5 442.4,133.5 442.1,137.0 441.0,140.2 440.2,141.5 439.2,142.8 438.2,143.6 437.2,144.1 M437.5,145.8 436.2,146.0 435.0,145.8 433.8,145.3 432.5,144.4 431.5,143.2 430.6,141.8 429.2,138.3 428.8,135.8 428.7,133.2 428.9,130.8 429.4,128.2 430.1,126.2 431.0,124.5 434.5,119.5 435.1,118.0 435.2,116.8 434.7,115.5 431.2,111.4 428.6,107.0 426.6,103.0 426.2,101.5 426.0,100.0 426.2,98.5 426.8,97.1 427.7,95.8 429.0,94.7 430.8,93.7 432.5,93.0 434.5,92.5 436.8,92.4 439.0,92.5 441.0,92.9 443.0,93.6 444.7,94.5 446.2,95.8 447.2,97.0 447.8,98.2 448.0,99.8 447.8,101.2 447.4,102.8 445.3,107.0 443.0,110.7 439.3,115.0 438.5,116.5 438.5,117.8 439.0,119.5 442.0,126.0 442.8,128.2 443.4,131.2 443.5,134.2 443.0,138.2 441.8,141.6 440.8,143.2 439.8,144.4 438.6,145.2 437.5,145.8 M437.0,147.8 435.8,147.8 434.2,147.5 433.0,146.8 431.7,145.8 430.5,144.3 429.6,142.8 428.8,140.8 428.1,138.8 427.7,136.2 427.6,133.5 427.7,130.8 428.2,128.0 429.8,123.9 431.0,121.8 433.3,118.8 433.7,117.8 433.9,116.8 433.3,115.2 430.2,110.5 427.1,105.0 425.9,102.0 425.6,99.8 425.8,98.2 426.4,96.8 427.5,95.4 428.9,94.2 430.5,93.4 432.5,92.6 434.8,92.1 437.0,92.0 439.2,92.1 441.5,92.6 443.5,93.4 445.1,94.2 446.5,95.4 447.6,96.8 448.2,98.2 448.4,99.8 448.0,102.2 446.5,105.5 443.6,110.5 440.1,115.2 439.5,116.8 439.6,117.8 440.0,119.2 442.9,125.0 444.2,129.0 444.6,131.5 444.7,134.0 444.5,136.5 444.1,138.8 442.9,142.2 441.2,144.9 439.2,146.8 438.2,147.4 437.0,147.8 M431.5,148.0 430.3,146.8 429.2,145.3 427.6,141.8 426.6,137.8 426.3,133.2 426.6,129.5 427.5,125.8 428.9,122.2 431.6,117.5 431.9,115.8 431.2,113.8 425.9,103.2 425.2,101.0 425.1,99.0 425.4,97.5 426.1,96.2 427.2,94.9 428.8,93.7 430.5,92.8 432.5,92.1 434.8,91.7 437.0,91.5 439.2,91.7 441.5,92.1 443.5,92.8 445.2,93.8 446.8,94.9 447.9,96.2 448.7,97.8 449.0,99.2 448.7,101.5 447.6,104.2 445.1,109.0 441.8,114.5 441.1,116.2 441.1,117.2 441.3,118.2 443.8,123.2 445.0,126.8 445.7,130.2 446.0,134.0 445.6,138.2 444.5,142.2 442.8,145.5 440.7,148.0 M428.7,148.0 427.0,145.0 425.6,141.2 424.9,137.0 424.7,132.8 425.0,129.2 425.7,125.8 426.9,122.2 429.4,116.5 429.7,114.2 429.5,113.0 428.8,111.0 424.8,102.2 424.3,100.2 424.3,98.5 424.8,97.0 425.7,95.5 426.9,94.2 428.5,93.1 430.5,92.1 432.5,91.5 434.8,91.0 437.0,90.9 439.5,91.1 441.8,91.5 444.0,92.3 445.7,93.2 447.2,94.4 448.5,95.8 449.3,97.2 449.7,98.8 449.6,100.8 448.9,103.0 444.0,112.8 443.2,115.2 443.2,116.2 443.4,117.5 445.7,123.2 446.8,126.8 447.3,130.0 447.6,133.5 447.4,137.5 446.6,141.5 445.3,145.0 443.6,148.0 M425.6,148.0 424.1,144.5 423.1,140.8 422.6,136.8 422.5,132.5 422.7,129.2 423.3,126.0 424.2,122.8 426.5,115.8 426.9,113.8 427.0,112.2 426.8,110.5 426.3,108.8 423.4,101.2 423.1,99.5 423.2,98.0 423.7,96.5 424.6,95.0 426.0,93.6 427.8,92.4 429.8,91.4 432.0,90.6 434.5,90.1 437.0,90.0 439.5,90.1 442.0,90.6 444.2,91.4 446.2,92.4 448.0,93.6 449.4,95.0 450.3,96.5 450.8,98.2 450.8,100.0 450.4,101.8 446.8,110.2 446.2,112.0 445.9,113.8 445.9,115.2 446.3,117.0 448.4,123.8 449.2,127.0 449.7,130.0 449.9,133.2 449.7,137.2 449.2,141.0 448.1,144.8 446.7,148.0 M420.6,148.0 419.6,144.8 418.8,141.2 418.4,137.8 418.3,134.0 418.4,130.5 418.9,126.8 419.7,123.5 421.6,116.5 422.1,113.2 422.2,110.5 421.9,105.8 420.8,99.5 421.1,97.0 421.8,95.2 423.1,93.5 424.8,92.0 426.8,90.7 429.0,89.6 431.5,88.8 434.2,88.3 437.0,88.2 439.8,88.3 442.5,88.9 445.0,89.6 447.2,90.7 449.2,92.0 450.9,93.5 452.2,95.2 452.9,97.0 453.1,98.5 453.1,100.0 451.8,106.7 451.0,112.0 450.9,114.8 451.3,117.8 453.1,124.5 453.8,128.0 454.3,131.8 454.4,135.5 454.2,138.8 453.7,142.0 452.9,145.2 451.9,148.0 M420.5,148.0 419.4,144.5 418.7,141.2 418.3,137.8 418.1,134.0 418.3,130.2 418.9,126.5 421.5,116.5 422.0,113.2 422.0,110.5 421.8,105.5 420.8,99.5 421.0,97.0 421.7,95.2 423.0,93.5 424.8,91.9 426.8,90.6 429.0,89.6 431.5,88.8 434.0,88.3 437.0,88.1 440.0,88.3 442.5,88.8 445.0,89.6 447.2,90.6 449.2,91.9 451.0,93.5 452.2,95.2 453.0,97.0 453.2,98.5 453.2,100.0 452.0,106.0 451.1,112.0 451.0,114.8 451.4,118.0 453.2,124.2 454.0,128.0 454.4,131.8 454.6,135.5 454.3,138.8 453.9,142.0 453.1,145.0 452.1,148.0" fill="none" stroke="#1a1a1a" stroke-width="0.5" stroke-opacity="0.95" stroke-linejoin="round"/>
<path d="M454.6,113.5 C454.8,116 455.5,119 458,120 C460.5,120.8 462,117.6 466,117.3 C471,117 474.5,119 475.6,124 C476.6,130 475.2,138 474.6,147 M455.2,121 C457,126 457.5,133 456.5,140 C456.2,143 456.2,145 456.3,147 M465.5,147 C465.6,144.5 466.8,143.3 468.3,143.3 C469.8,143.3 470.8,145 470.9,147" fill="none" stroke="#444" stroke-width="0.5"/>
<ellipse cx="465" cy="129" rx="4.6" ry="6.6" transform="rotate(12 465 129)" fill="none" stroke="#444" stroke-width="0.5"/>
</g>
<rect x="409" y="45.3" width="103.5" height="101.7" fill="none" stroke="#6a6a6a" stroke-width="1.3"/>
<line x1="406" y1="54.8" x2="409" y2="54.8" stroke="#444" stroke-width="1"/>
<text x="391.28" y="57.20" font-size="7.7" fill="#222" textLength="7.74" lengthAdjust="spacingAndGlyphs">10</text>
<text x="399.57" y="55.03" font-size="4.47" fill="#222">5</text>
<line x1="406" y1="77.7" x2="409" y2="77.7" stroke="#444" stroke-width="1"/>
<text x="391.28" y="80.10" font-size="7.7" fill="#222" textLength="7.74" lengthAdjust="spacingAndGlyphs">10</text>
<text x="399.57" y="77.93" font-size="4.47" fill="#222">4</text>
<line x1="406" y1="101.3" x2="409" y2="101.3" stroke="#444" stroke-width="1"/>
<text x="391.28" y="103.70" font-size="7.7" fill="#222" textLength="7.74" lengthAdjust="spacingAndGlyphs">10</text>
<text x="399.57" y="101.53" font-size="4.47" fill="#222">3</text>
<line x1="406" y1="124.8" x2="409" y2="124.8" stroke="#444" stroke-width="1"/>
<text x="391.28" y="127.20" font-size="7.7" fill="#222" textLength="7.74" lengthAdjust="spacingAndGlyphs">10</text>
<text x="399.57" y="125.03" font-size="4.47" fill="#222">2</text>
<line x1="406" y1="136.4" x2="409" y2="136.4" stroke="#444" stroke-width="1"/>
<text x="402.30" y="138.90" font-size="7.0" text-anchor="end" font-weight="normal" font-style="normal" fill="#222">0</text>
<line x1="407.4" y1="117.73" x2="409" y2="117.73" stroke="#666" stroke-width="0.7"/>
<line x1="407.4" y1="113.59" x2="409" y2="113.59" stroke="#666" stroke-width="0.7"/>
<line x1="407.4" y1="110.65" x2="409" y2="110.65" stroke="#666" stroke-width="0.7"/>
<line x1="407.4" y1="108.37" x2="409" y2="108.37" stroke="#666" stroke-width="0.7"/>
<line x1="407.4" y1="106.51" x2="409" y2="106.51" stroke="#666" stroke-width="0.7"/>
<line x1="407.4" y1="104.94" x2="409" y2="104.94" stroke="#666" stroke-width="0.7"/>
<line x1="407.4" y1="103.58" x2="409" y2="103.58" stroke="#666" stroke-width="0.7"/>
<line x1="407.4" y1="102.38" x2="409" y2="102.38" stroke="#666" stroke-width="0.7"/>
<line x1="407.4" y1="94.20" x2="409" y2="94.20" stroke="#666" stroke-width="0.7"/>
<line x1="407.4" y1="90.04" x2="409" y2="90.04" stroke="#666" stroke-width="0.7"/>
<line x1="407.4" y1="87.09" x2="409" y2="87.09" stroke="#666" stroke-width="0.7"/>
<line x1="407.4" y1="84.80" x2="409" y2="84.80" stroke="#666" stroke-width="0.7"/>
<line x1="407.4" y1="82.94" x2="409" y2="82.94" stroke="#666" stroke-width="0.7"/>
<line x1="407.4" y1="81.36" x2="409" y2="81.36" stroke="#666" stroke-width="0.7"/>
<line x1="407.4" y1="79.99" x2="409" y2="79.99" stroke="#666" stroke-width="0.7"/>
<line x1="407.4" y1="78.78" x2="409" y2="78.78" stroke="#666" stroke-width="0.7"/>
<line x1="407.4" y1="70.81" x2="409" y2="70.81" stroke="#666" stroke-width="0.7"/>
<line x1="407.4" y1="66.77" x2="409" y2="66.77" stroke="#666" stroke-width="0.7"/>
<line x1="407.4" y1="63.91" x2="409" y2="63.91" stroke="#666" stroke-width="0.7"/>
<line x1="407.4" y1="61.69" x2="409" y2="61.69" stroke="#666" stroke-width="0.7"/>
<line x1="407.4" y1="59.88" x2="409" y2="59.88" stroke="#666" stroke-width="0.7"/>
<line x1="407.4" y1="58.35" x2="409" y2="58.35" stroke="#666" stroke-width="0.7"/>
<line x1="407.4" y1="57.02" x2="409" y2="57.02" stroke="#666" stroke-width="0.7"/>
<line x1="407.4" y1="55.85" x2="409" y2="55.85" stroke="#666" stroke-width="0.7"/>
<line x1="407.4" y1="47.91" x2="409" y2="47.91" stroke="#666" stroke-width="0.7"/>
<line x1="407.4" y1="130.60" x2="409" y2="130.60" stroke="#666" stroke-width="0.7"/>
<line x1="407.4" y1="142.20" x2="409" y2="142.20" stroke="#666" stroke-width="0.7"/>
<line x1="407.4" y1="146.84" x2="409" y2="146.84" stroke="#666" stroke-width="0.7"/>
<line x1="435.2" y1="147" x2="435.2" y2="150" stroke="#444" stroke-width="1"/>
<line x1="466" y1="147" x2="466" y2="150" stroke="#444" stroke-width="1"/>
<line x1="483.7" y1="147" x2="483.7" y2="150" stroke="#444" stroke-width="1"/>
<line x1="503.9" y1="147" x2="503.9" y2="150" stroke="#444" stroke-width="1"/>
<line x1="471.33" y1="147" x2="471.33" y2="148.6" stroke="#666" stroke-width="0.7"/>
<line x1="474.45" y1="147" x2="474.45" y2="148.6" stroke="#666" stroke-width="0.7"/>
<line x1="476.66" y1="147" x2="476.66" y2="148.6" stroke="#666" stroke-width="0.7"/>
<line x1="478.37" y1="147" x2="478.37" y2="148.6" stroke="#666" stroke-width="0.7"/>
<line x1="479.77" y1="147" x2="479.77" y2="148.6" stroke="#666" stroke-width="0.7"/>
<line x1="480.96" y1="147" x2="480.96" y2="148.6" stroke="#666" stroke-width="0.7"/>
<line x1="481.98" y1="147" x2="481.98" y2="148.6" stroke="#666" stroke-width="0.7"/>
<line x1="482.89" y1="147" x2="482.89" y2="148.6" stroke="#666" stroke-width="0.7"/>
<line x1="489.78" y1="147" x2="489.78" y2="148.6" stroke="#666" stroke-width="0.7"/>
<line x1="493.34" y1="147" x2="493.34" y2="148.6" stroke="#666" stroke-width="0.7"/>
<line x1="495.86" y1="147" x2="495.86" y2="148.6" stroke="#666" stroke-width="0.7"/>
<line x1="497.82" y1="147" x2="497.82" y2="148.6" stroke="#666" stroke-width="0.7"/>
<line x1="499.42" y1="147" x2="499.42" y2="148.6" stroke="#666" stroke-width="0.7"/>
<line x1="500.77" y1="147" x2="500.77" y2="148.6" stroke="#666" stroke-width="0.7"/>
<line x1="501.94" y1="147" x2="501.94" y2="148.6" stroke="#666" stroke-width="0.7"/>
<line x1="502.98" y1="147" x2="502.98" y2="148.6" stroke="#666" stroke-width="0.7"/>
<line x1="414.24" y1="147" x2="414.24" y2="148.6" stroke="#666" stroke-width="0.7"/>
<line x1="420.79" y1="147" x2="420.79" y2="148.6" stroke="#666" stroke-width="0.7"/>
<line x1="427.34" y1="147" x2="427.34" y2="148.6" stroke="#666" stroke-width="0.7"/>
<line x1="439.82" y1="147" x2="439.82" y2="148.6" stroke="#666" stroke-width="0.7"/>
<line x1="443.67" y1="147" x2="443.67" y2="148.6" stroke="#666" stroke-width="0.7"/>
<line x1="447.52" y1="147" x2="447.52" y2="148.6" stroke="#666" stroke-width="0.7"/>
<text x="435.20" y="159.00" font-size="6.8" text-anchor="middle" font-weight="normal" font-style="normal" fill="#222">0</text>
<text x="462.09" y="159.00" font-size="7.7" fill="#222" textLength="7.74" lengthAdjust="spacingAndGlyphs">10</text>
<text x="470.38" y="156.83" font-size="4.47" fill="#222">3</text>
<text x="479.79" y="159.00" font-size="7.7" fill="#222" textLength="7.74" lengthAdjust="spacingAndGlyphs">10</text>
<text x="488.08" y="156.83" font-size="4.47" fill="#222">4</text>
<text x="499.99" y="159.00" font-size="7.7" fill="#222" textLength="7.74" lengthAdjust="spacingAndGlyphs">10</text>
<text x="508.28" y="156.83" font-size="4.47" fill="#222">5</text>
<rect x="417" y="85.1" width="42.39999999999998" height="29.10000000000001" fill="none" stroke="#0a0a0a" stroke-width="1.9"/>
<rect x="460.4" y="85.1" width="31.600000000000023" height="22.400000000000006" fill="none" stroke="#0a0a0a" stroke-width="1.9"/>
<text x="428.00" y="73.10" font-size="7.8" text-anchor="start" font-weight="normal" font-style="normal" fill="#1a1a1a" textLength="8.2" lengthAdjust="spacingAndGlyphs">LK</text>
<text x="428.00" y="82.30" font-size="8.0" text-anchor="start" font-weight="normal" font-style="normal" fill="#1a1a1a" textLength="19.4" lengthAdjust="spacingAndGlyphs">44.8%</text>
<text x="463.80" y="73.10" font-size="7.8" text-anchor="start" font-weight="normal" font-style="normal" fill="#1a1a1a" textLength="12.4" lengthAdjust="spacingAndGlyphs">KSL</text>
<text x="463.80" y="82.30" font-size="8.0" text-anchor="start" font-weight="normal" font-style="normal" fill="#1a1a1a" textLength="24.7" lengthAdjust="spacingAndGlyphs">0.861%</text>
<text x="463.90" y="36.60" font-size="8.4" text-anchor="middle" font-weight="normal" font-style="normal" fill="#1a1a1a" textLength="36.5" lengthAdjust="spacingAndGlyphs">3aKO-140</text>
<text x="8.60" y="16.90" font-size="12" text-anchor="start" font-weight="bold" font-style="normal" fill="#000">K</text>
<text x="230.20" y="24.40" font-size="9.6" text-anchor="start" font-weight="normal" font-style="normal" fill="#1a1a1a" textLength="86.7" lengthAdjust="spacingAndGlyphs">Gated on GFP+ Lin-</text>
<path d="M12.4,172.6 L12.4,145" stroke="#111" stroke-width="0.9" fill="none"/><path d="M12.4,141.2 L10.7,146.2 L14.1,146.2 Z" fill="#111"/>
<path d="M12.4,172.6 L46,172.6" stroke="#111" stroke-width="0.9" fill="none"/><path d="M49.2,172.6 L44.6,170.9 L44.6,174.3 Z" fill="#111"/>
<text x="0" y="0" font-size="7.3" fill="#222" transform="translate(16.3,137.4) rotate(-90)" textLength="14.8" lengthAdjust="spacingAndGlyphs">c-Kit</text>
<text x="52.90" y="175.80" font-size="10.6" text-anchor="start" font-weight="normal" font-style="normal" fill="#1a1a1a" textLength="14.7" lengthAdjust="spacingAndGlyphs">Sca1</text>
<text x="9.20" y="203.40" font-size="11.6" text-anchor="start" font-weight="bold" font-style="normal" fill="#000">L</text>
<text x="42.30" y="211.00" font-size="10.3" text-anchor="start" font-weight="normal" font-style="normal" fill="#1a1a1a" textLength="115.4" lengthAdjust="spacingAndGlyphs">Up-regulated genes vs WT</text>
<defs><clipPath id="vlp"><ellipse cx="99.85" cy="270.8" rx="55.65" ry="54.5"/></clipPath><clipPath id="vlg"><ellipse cx="81.1" cy="325" rx="33.1" ry="31.2"/></clipPath></defs>
<ellipse cx="99.85" cy="270.8" rx="55.65" ry="54.5" fill="#cd7b8e"/>
<ellipse cx="81.1" cy="325" rx="33.1" ry="31.2" fill="#b5d6a0"/>
<ellipse cx="127.5" cy="328.7" rx="27.5" ry="27.8" fill="#909ec2"/>
<g clip-path="url(#vlp)"><ellipse cx="81.1" cy="325" rx="33.1" ry="31.2" fill="#9e8f64"/><ellipse cx="127.5" cy="328.7" rx="27.5" ry="27.8" fill="#86678f"/></g>
<g clip-path="url(#vlg)"><ellipse cx="127.5" cy="328.7" rx="27.5" ry="27.8" fill="#80a985"/></g>
<g clip-path="url(#vlg)"><g clip-path="url(#vlp)"><ellipse cx="127.5" cy="328.7" rx="27.5" ry="27.8" fill="#748a66"/></g></g>
<text x="94.60" y="271.80" font-size="9.0" text-anchor="middle" font-weight="normal" font-style="normal" fill="#1a1a1a" textLength="13.05" lengthAdjust="spacingAndGlyphs">569</text>
<text x="75.60" y="314.60" font-size="9.0" text-anchor="middle" font-weight="normal" font-style="normal" fill="#1a1a1a" textLength="8.7" lengthAdjust="spacingAndGlyphs">33</text>
<text x="74.40" y="340.60" font-size="9.0" text-anchor="middle" font-weight="normal" font-style="normal" fill="#1a1a1a" textLength="13.05" lengthAdjust="spacingAndGlyphs">107</text>
<text x="122.40" y="316.30" font-size="9.0" text-anchor="middle" font-weight="normal" font-style="normal" fill="#1a1a1a" textLength="4.35" lengthAdjust="spacingAndGlyphs">9</text>
<text x="106.80" y="324.30" font-size="9.0" text-anchor="middle" font-weight="normal" font-style="normal" fill="#1a1a1a" textLength="8.7" lengthAdjust="spacingAndGlyphs">12</text>
<text x="105.60" y="337.70" font-size="9.0" text-anchor="middle" font-weight="normal" font-style="normal" fill="#1a1a1a" textLength="8.7" lengthAdjust="spacingAndGlyphs">35</text>
<text x="128.30" y="339.40" font-size="9.0" text-anchor="middle" font-weight="normal" font-style="normal" fill="#1a1a1a" textLength="8.7" lengthAdjust="spacingAndGlyphs">53</text>
<line x1="35" y1="305.2" x2="70.6" y2="305.2" stroke="#222" stroke-width="1.2"/>
<line x1="129" y1="307.8" x2="162.7" y2="307.8" stroke="#222" stroke-width="1.2"/>
<text x="9.00" y="283.60" font-size="8.3" text-anchor="start" font-weight="normal" font-style="italic" fill="#1a1a1a">Gata2</text>
<text x="9.00" y="293.10" font-size="8.3" text-anchor="start" font-weight="normal" font-style="italic" fill="#1a1a1a">Egr1</text>
<text x="9.00" y="302.60" font-size="8.3" text-anchor="start" font-weight="normal" font-style="italic" fill="#1a1a1a">Bcl2</text>
<text x="9.00" y="312.10" font-size="8.3" text-anchor="start" font-weight="normal" font-style="italic" fill="#1a1a1a">Itga2b</text>
<text x="9.00" y="321.60" font-size="8.3" text-anchor="start" font-weight="normal" font-style="italic" fill="#1a1a1a">Rhob</text>
<text x="9.00" y="331.10" font-size="8.3" text-anchor="start" font-weight="normal" font-style="italic" fill="#1a1a1a">CD63</text>
<text x="166.00" y="300.40" font-size="8.3" text-anchor="start" font-weight="normal" font-style="italic" fill="#1a1a1a">Idh2</text>
<text x="166.00" y="310.10" font-size="8.3" text-anchor="start" font-weight="normal" font-style="italic" fill="#1a1a1a">Jund</text>
<text x="166.00" y="319.80" font-size="8.3" text-anchor="start" font-weight="normal" font-style="italic" fill="#1a1a1a">Fos</text>
<text x="7.40" y="382.00" font-size="11.9" text-anchor="start" font-weight="bold" font-style="normal" fill="#000" textLength="10.6" lengthAdjust="spacingAndGlyphs">M</text>
<text x="25.60" y="390.80" font-size="10.3" text-anchor="start" font-weight="normal" font-style="normal" fill="#1a1a1a" textLength="127.4" lengthAdjust="spacingAndGlyphs">Down-regulated genes vs WT</text>
<defs><clipPath id="vmp"><ellipse cx="89.6" cy="450.9" rx="55.4" ry="54.6"/></clipPath><clipPath id="vmg"><ellipse cx="73.6" cy="492" rx="35.4" ry="33.8"/></clipPath></defs>
<ellipse cx="89.6" cy="450.9" rx="55.4" ry="54.6" fill="#cd7b8e"/>
<ellipse cx="73.6" cy="492" rx="35.4" ry="33.8" fill="#b5d6a0"/>
<ellipse cx="116.6" cy="508.65" rx="27.4" ry="27.85" fill="#909ec2"/>
<g clip-path="url(#vmp)"><ellipse cx="73.6" cy="492" rx="35.4" ry="33.8" fill="#9e8f64"/><ellipse cx="116.6" cy="508.65" rx="27.4" ry="27.85" fill="#86678f"/></g>
<g clip-path="url(#vmg)"><ellipse cx="116.6" cy="508.65" rx="27.4" ry="27.85" fill="#80a985"/></g>
<g clip-path="url(#vmg)"><g clip-path="url(#vmp)"><ellipse cx="116.6" cy="508.65" rx="27.4" ry="27.85" fill="#748a66"/></g></g>
<text x="86.50" y="452.00" font-size="9.0" text-anchor="middle" font-weight="normal" font-style="normal" fill="#1a1a1a" textLength="13.05" lengthAdjust="spacingAndGlyphs">696</text>
<text x="67.30" y="491.20" font-size="9.0" text-anchor="middle" font-weight="normal" font-style="normal" fill="#1a1a1a" textLength="13.05" lengthAdjust="spacingAndGlyphs">210</text>
<text x="61.50" y="520.30" font-size="9.0" text-anchor="middle" font-weight="normal" font-style="normal" fill="#1a1a1a" textLength="8.7" lengthAdjust="spacingAndGlyphs">76</text>
<text x="97.20" y="503.70" font-size="9.0" text-anchor="middle" font-weight="normal" font-style="normal" fill="#1a1a1a" textLength="8.7" lengthAdjust="spacingAndGlyphs">38</text>
<text x="114.60" y="496.00" font-size="9.0" text-anchor="middle" font-weight="normal" font-style="normal" fill="#1a1a1a" textLength="8.7" lengthAdjust="spacingAndGlyphs">26</text>
<text x="94.90" y="517.70" font-size="9.0" text-anchor="middle" font-weight="normal" font-style="normal" fill="#1a1a1a" textLength="8.7" lengthAdjust="spacingAndGlyphs">26</text>
<text x="117.00" y="519.30" font-size="9.0" text-anchor="middle" font-weight="normal" font-style="normal" fill="#1a1a1a" textLength="8.7" lengthAdjust="spacingAndGlyphs">64</text>
<line x1="33.7" y1="474.6" x2="64.8" y2="474.6" stroke="#222" stroke-width="1.2"/>
<line x1="102" y1="496.2" x2="155.6" y2="496.2" stroke="#222" stroke-width="1.2"/>
<line x1="133.3" y1="517" x2="155.6" y2="517" stroke="#222" stroke-width="1.2"/>
<text x="9.00" y="467.20" font-size="8.3" text-anchor="start" font-weight="normal" font-style="italic" fill="#1a1a1a">Gata1</text>
<text x="9.00" y="476.85" font-size="8.3" text-anchor="start" font-weight="normal" font-style="italic" fill="#1a1a1a">Klf1</text>
<text x="9.00" y="486.50" font-size="8.3" text-anchor="start" font-weight="normal" font-style="italic" fill="#1a1a1a">Epor</text>
<text x="158.80" y="498.90" font-size="8.3" text-anchor="start" font-weight="normal" font-style="italic" fill="#1a1a1a">Spib</text>
<text x="169.40" y="508.10" font-size="8.3" text-anchor="start" font-weight="normal" font-style="italic" fill="#1a1a1a">Gata2</text>
<rect x="21" y="541.70" width="15.3" height="8.9" fill="#cd7b8e"/>
<text x="39.80" y="549.30" font-size="8.7" text-anchor="start" font-weight="normal" font-style="normal" fill="#1a1a1a" textLength="55" lengthAdjust="spacingAndGlyphs">3aKO-140 HSPC</text>
<rect x="21" y="553.95" width="15.3" height="8.9" fill="#b5d6a0"/>
<text x="39.80" y="561.55" font-size="8.7" text-anchor="start" font-weight="normal" font-style="normal" fill="#1a1a1a" textLength="58.8" lengthAdjust="spacingAndGlyphs">3aKO MEP+GMP</text>
<rect x="21" y="566.20" width="15.3" height="8.9" fill="#909ec2"/>
<text x="39.80" y="573.80" font-size="8.7" text-anchor="start" font-weight="normal" font-style="normal" fill="#1a1a1a" textLength="65" lengthAdjust="spacingAndGlyphs">WT-140 MEP+GMP</text>
<text x="206.40" y="202.90" font-size="11.9" text-anchor="start" font-weight="bold" font-style="normal" fill="#000">N</text>
<rect x="247.3" y="217.6" width="155.89999999999998" height="91.70000000000002" fill="#f7f7f7"/>
<line x1="266.7" y1="217.6" x2="266.7" y2="282.7" stroke="#e6e6e6" stroke-width="0.6"/>
<line x1="286.1" y1="217.6" x2="286.1" y2="282.7" stroke="#e6e6e6" stroke-width="0.6"/>
<line x1="305.4" y1="217.6" x2="305.4" y2="282.7" stroke="#e6e6e6" stroke-width="0.6"/>
<line x1="324.8" y1="217.6" x2="324.8" y2="282.7" stroke="#e6e6e6" stroke-width="0.6"/>
<line x1="344.1" y1="217.6" x2="344.1" y2="282.7" stroke="#e6e6e6" stroke-width="0.6"/>
<line x1="363.4" y1="217.6" x2="363.4" y2="282.7" stroke="#e6e6e6" stroke-width="0.6"/>
<line x1="382.8" y1="217.6" x2="382.8" y2="282.7" stroke="#e6e6e6" stroke-width="0.6"/>
<line x1="247.3" y1="276.5" x2="403.2" y2="276.5" stroke="#e2e2e2" stroke-width="0.6"/>
<line x1="247.3" y1="265.4" x2="403.2" y2="265.4" stroke="#e2e2e2" stroke-width="0.6"/>
<line x1="247.3" y1="254.3" x2="403.2" y2="254.3" stroke="#e2e2e2" stroke-width="0.6"/>
<line x1="247.3" y1="243.2" x2="403.2" y2="243.2" stroke="#e2e2e2" stroke-width="0.6"/>
<line x1="247.3" y1="232.1" x2="403.2" y2="232.1" stroke="#e2e2e2" stroke-width="0.6"/>
<line x1="247.3" y1="221.0" x2="403.2" y2="221.0" stroke="#e2e2e2" stroke-width="0.6"/>
<line x1="247.3" y1="276.5" x2="403.2" y2="276.5" stroke="#d0d0d0" stroke-width="0.7"/>
<rect x="247.8" y="282.7" width="147.39999999999998" height="21.100000000000023" fill="#f8f8f8"/>
<line x1="247.3" y1="282.7" x2="403.2" y2="282.7" stroke="#c8c8c8" stroke-width="0.8"/>
<rect x="247.50" y="283.10" width="2.00" height="20.70" fill="#c8c8c8"/>
<rect x="250.20" y="283.10" width="0.80" height="20.70" fill="#555"/>
<rect x="252.20" y="283.10" width="0.80" height="20.70" fill="#777"/>
<rect x="254.00" y="283.10" width="2.80" height="20.70" fill="#8a8a8a"/>
<rect x="257.50" y="283.10" width="1.20" height="20.70" fill="#fff"/>
<rect x="259.00" y="283.10" width="3.00" height="20.70" fill="#bbb"/>
<rect x="263.70" y="283.10" width="1.10" height="20.70" fill="#999"/>
<rect x="265.20" y="283.10" width="0.80" height="20.70" fill="#555"/>
<rect x="266.80" y="283.10" width="2.20" height="20.70" fill="#c4c4c4"/>
<rect x="269.80" y="283.10" width="1.20" height="20.70" fill="#222"/>
<rect x="271.00" y="283.10" width="1.50" height="20.70" fill="#fff"/>
<rect x="273.00" y="283.10" width="0.70" height="20.70" fill="#999"/>
<rect x="274.00" y="283.10" width="1.60" height="20.70" fill="#aaa"/>
<rect x="276.00" y="283.10" width="2.30" height="20.70" fill="#fff"/>
<rect x="279.00" y="283.10" width="1.20" height="20.70" fill="#666"/>
<rect x="281.00" y="283.10" width="1.20" height="20.70" fill="#999"/>
<rect x="283.00" y="283.10" width="1.00" height="20.70" fill="#888"/>
<rect x="286.00" y="283.10" width="3.00" height="20.70" fill="#c8c8c8"/>
<rect x="289.80" y="283.10" width="3.00" height="20.70" fill="#707070"/>
<rect x="294.00" y="283.10" width="5.40" height="20.70" fill="#b0b0b0"/>
<rect x="299.40" y="283.10" width="0.80" height="20.70" fill="#404040"/>
<rect x="307.00" y="283.10" width="1.20" height="20.70" fill="#333"/>
<rect x="318.20" y="283.10" width="1.60" height="20.70" fill="#aaa"/>
<rect x="324.00" y="283.10" width="1.00" height="20.70" fill="#777"/>
<rect x="331.90" y="283.10" width="1.00" height="20.70" fill="#666"/>
<rect x="339.00" y="283.10" width="1.00" height="20.70" fill="#888"/>
<rect x="364.00" y="283.10" width="1.00" height="20.70" fill="#666"/>
<rect x="386.40" y="283.10" width="1.00" height="20.70" fill="#888"/>
<rect x="392.20" y="283.10" width="1.00" height="20.70" fill="#777"/>
<rect x="247.70" y="303.8" width="7.08" height="5.5" fill="#d43a3a"/>
<rect x="254.49" y="303.8" width="17.85" height="5.5" fill="#d84a4a"/>
<rect x="272.04" y="303.8" width="9.89" height="5.5" fill="#dc6670"/>
<rect x="281.62" y="303.8" width="13.57" height="5.5" fill="#e07c7e"/>
<rect x="294.90" y="303.8" width="18.00" height="5.5" fill="#eab4d6"/>
<rect x="312.60" y="303.8" width="16.53" height="5.5" fill="#d2d2f0"/>
<rect x="328.82" y="303.8" width="7.67" height="5.5" fill="#c6c6ec"/>
<rect x="336.20" y="303.8" width="15.05" height="5.5" fill="#b8b6e2"/>
<rect x="350.95" y="303.8" width="12.10" height="5.5" fill="#7c7cc6"/>
<rect x="362.75" y="303.8" width="22.43" height="5.5" fill="#5a46a8"/>
<rect x="384.88" y="303.8" width="10.62" height="5.5" fill="#3e2a8e"/>
<line x1="247.3" y1="217.6" x2="403.2" y2="217.6" stroke="#e2dfcc" stroke-width="1"/>
<line x1="247.3" y1="217.6" x2="247.3" y2="309.3" stroke="#d8d4bc" stroke-width="0.9"/>
<rect x="402.7" y="217.6" width="2.4" height="91.70000000000002" fill="#ece8d6"/>
<path d="M247.7,276.3 L248.7,265.8 L250.0,262.0 L251.2,259.0 L252.4,257.0 L253.5,253.3 L254.5,250.0 L255.4,246.5 L257.0,239.8 L259.2,240.8 L261.0,238.5 L263.0,237.5 L264.0,236.0 L265.5,236.5 L267.0,234.0 L268.5,234.8 L270.8,232.0 L272.5,232.8 L275.6,229.2 L277.0,230.3 L280.4,227.3 L282.0,228.5 L285.2,226.3 L287.0,226.5 L289.0,224.4 L290.5,223.5 L292.9,222.0 L297.7,222.0 L300.0,221.2 L303.0,223.6 L307.3,225.8 L309.0,226.3 L317.0,231.2 L324.8,236.0 L326.0,236.0 L332.5,240.4 L334.0,240.5 L339.2,244.6 L346.9,249.4 L354.6,255.2 L363.3,262.0 L365.2,261.5 L375.8,269.6 L386.3,277.7 L388.3,275.4 L392.1,278.8 L393.1,274.4 L395.4,276.3" fill="none" stroke="#4f9e35" stroke-width="1.45" stroke-linejoin="round"/>
<text x="224.20" y="212.00" font-size="9.8" text-anchor="start" font-weight="normal" font-style="normal" fill="#1a1a1a" textLength="202.8" lengthAdjust="spacingAndGlyphs">Ivanova_Hematopoiesis_Stem_Cell_Long_Term</text>
<text x="258.80" y="278.50" font-size="8.3" text-anchor="start" font-weight="normal" font-style="normal" fill="#1a1a1a" textLength="105" lengthAdjust="spacingAndGlyphs">FDR&lt;0.01,p&lt;0.01, NES=2.59</text>
<text x="246.40" y="319.60" font-size="8.2" text-anchor="start" font-weight="normal" font-style="normal" fill="#1a1a1a" textLength="58.5" lengthAdjust="spacingAndGlyphs">3aKO-140 HSPC</text>
<text x="359.40" y="319.60" font-size="8.2" text-anchor="start" font-weight="normal" font-style="normal" fill="#1a1a1a" textLength="46" lengthAdjust="spacingAndGlyphs">WT-140 MEP</text>
<rect x="247.3" y="356.4" width="154.3" height="89.60000000000002" fill="#f7f7f7"/>
<line x1="257.5" y1="356.4" x2="257.5" y2="420.2" stroke="#e6e6e6" stroke-width="0.6"/>
<line x1="276.9" y1="356.4" x2="276.9" y2="420.2" stroke="#e6e6e6" stroke-width="0.6"/>
<line x1="296.2" y1="356.4" x2="296.2" y2="420.2" stroke="#e6e6e6" stroke-width="0.6"/>
<line x1="315.6" y1="356.4" x2="315.6" y2="420.2" stroke="#e6e6e6" stroke-width="0.6"/>
<line x1="334.9" y1="356.4" x2="334.9" y2="420.2" stroke="#e6e6e6" stroke-width="0.6"/>
<line x1="354.2" y1="356.4" x2="354.2" y2="420.2" stroke="#e6e6e6" stroke-width="0.6"/>
<line x1="373.6" y1="356.4" x2="373.6" y2="420.2" stroke="#e6e6e6" stroke-width="0.6"/>
<line x1="393.0" y1="356.4" x2="393.0" y2="420.2" stroke="#e6e6e6" stroke-width="0.6"/>
<line x1="247.3" y1="412.0" x2="401.6" y2="412.0" stroke="#e2e2e2" stroke-width="0.6"/>
<line x1="247.3" y1="401.2" x2="401.6" y2="401.2" stroke="#e2e2e2" stroke-width="0.6"/>
<line x1="247.3" y1="390.4" x2="401.6" y2="390.4" stroke="#e2e2e2" stroke-width="0.6"/>
<line x1="247.3" y1="379.6" x2="401.6" y2="379.6" stroke="#e2e2e2" stroke-width="0.6"/>
<line x1="247.3" y1="368.8" x2="401.6" y2="368.8" stroke="#e2e2e2" stroke-width="0.6"/>
<line x1="247.3" y1="417.6" x2="401.6" y2="417.6" stroke="#d0d0d0" stroke-width="0.7"/>
<rect x="247.8" y="420.2" width="146.39999999999998" height="21.100000000000023" fill="#f8f8f8"/>
<line x1="247.3" y1="420.2" x2="401.6" y2="420.2" stroke="#c8c8c8" stroke-width="0.8"/>
<rect x="248.00" y="420.60" width="1.00" height="20.70" fill="#000"/>
<rect x="249.00" y="420.60" width="2.40" height="20.70" fill="#404040"/>
<rect x="251.40" y="420.60" width="0.80" height="20.70" fill="#666"/>
<rect x="252.20" y="420.60" width="1.10" height="20.70" fill="#222"/>
<rect x="253.30" y="420.60" width="2.70" height="20.70" fill="#000"/>
<rect x="256.00" y="420.60" width="2.70" height="20.70" fill="#555"/>
<rect x="258.70" y="420.60" width="1.10" height="20.70" fill="#f0f0f0"/>
<rect x="259.80" y="420.60" width="1.60" height="20.70" fill="#888"/>
<rect x="261.40" y="420.60" width="2.60" height="20.70" fill="#fff"/>
<rect x="264.00" y="420.60" width="2.00" height="20.70" fill="#999"/>
<rect x="266.00" y="420.60" width="1.50" height="20.70" fill="#000"/>
<rect x="267.50" y="420.60" width="1.20" height="20.70" fill="#888"/>
<rect x="268.70" y="420.60" width="1.90" height="20.70" fill="#ccc"/>
<rect x="270.60" y="420.60" width="1.60" height="20.70" fill="#999"/>
<rect x="272.20" y="420.60" width="1.50" height="20.70" fill="#888"/>
<rect x="273.70" y="420.60" width="1.90" height="20.70" fill="#aaa"/>
<rect x="275.60" y="420.60" width="1.90" height="20.70" fill="#999"/>
<rect x="277.50" y="420.60" width="1.20" height="20.70" fill="#bbb"/>
<rect x="278.70" y="420.60" width="5.00" height="20.70" fill="#fff"/>
<rect x="283.70" y="420.60" width="1.50" height="20.70" fill="#999"/>
<rect x="285.20" y="420.60" width="1.80" height="20.70" fill="#fff"/>
<rect x="287.00" y="420.60" width="1.20" height="20.70" fill="#999"/>
<rect x="288.20" y="420.60" width="3.10" height="20.70" fill="#ccc"/>
<rect x="291.30" y="420.60" width="0.70" height="20.70" fill="#888"/>
<rect x="292.00" y="420.60" width="1.60" height="20.70" fill="#222"/>
<rect x="293.60" y="420.60" width="1.90" height="20.70" fill="#888"/>
<rect x="295.50" y="420.60" width="3.10" height="20.70" fill="#aaa"/>
<rect x="298.60" y="420.60" width="1.60" height="20.70" fill="#333"/>
<rect x="300.20" y="420.60" width="3.40" height="20.70" fill="#fff"/>
<rect x="303.60" y="420.60" width="1.60" height="20.70" fill="#444"/>
<rect x="305.20" y="420.60" width="2.60" height="20.70" fill="#999"/>
<rect x="328.00" y="420.60" width="1.00" height="20.70" fill="#777"/>
<rect x="336.90" y="420.60" width="1.00" height="20.70" fill="#777"/>
<rect x="351.90" y="420.60" width="1.00" height="20.70" fill="#888"/>
<rect x="355.00" y="420.60" width="1.50" height="20.70" fill="#ccc"/>
<rect x="356.50" y="420.60" width="1.70" height="20.70" fill="#aaa"/>
<rect x="358.20" y="420.60" width="1.50" height="20.70" fill="#888"/>
<rect x="360.30" y="420.60" width="1.60" height="20.70" fill="#3a3a3a"/>
<rect x="370.50" y="420.60" width="1.50" height="20.70" fill="#777"/>
<rect x="384.00" y="420.60" width="1.00" height="20.70" fill="#888"/>
<rect x="387.00" y="420.60" width="1.00" height="20.70" fill="#888"/>
<rect x="390.90" y="420.60" width="1.00" height="20.70" fill="#777"/>
<rect x="247.70" y="441.3" width="7.04" height="4.699999999999989" fill="#d43a3a"/>
<rect x="254.44" y="441.3" width="17.73" height="4.699999999999989" fill="#d84a4a"/>
<rect x="271.87" y="441.3" width="9.82" height="4.699999999999989" fill="#dc6670"/>
<rect x="281.39" y="441.3" width="13.48" height="4.699999999999989" fill="#e07c7e"/>
<rect x="294.58" y="441.3" width="17.88" height="4.699999999999989" fill="#eab4d6"/>
<rect x="312.16" y="441.3" width="16.42" height="4.699999999999989" fill="#d2d2f0"/>
<rect x="328.27" y="441.3" width="7.62" height="4.699999999999989" fill="#c6c6ec"/>
<rect x="335.60" y="441.3" width="14.95" height="4.699999999999989" fill="#b8b6e2"/>
<rect x="350.25" y="441.3" width="12.02" height="4.699999999999989" fill="#7c7cc6"/>
<rect x="361.97" y="441.3" width="22.27" height="4.699999999999989" fill="#5a46a8"/>
<rect x="383.94" y="441.3" width="10.55" height="4.699999999999989" fill="#3e2a8e"/>
<line x1="247.3" y1="356.4" x2="401.6" y2="356.4" stroke="#e2dfcc" stroke-width="1"/>
<line x1="247.3" y1="356.4" x2="247.3" y2="446.0" stroke="#d8d4bc" stroke-width="0.9"/>
<rect x="401.1" y="356.4" width="2.4" height="89.60000000000002" fill="#ece8d6"/>
<path d="M247.7,417.3 L249.2,404.2 L251.2,388.8 L253.0,377.3 L255.0,369.6 L257.0,364.8 L258.8,362.9 L261.7,363.5 L264.6,363.8 L267.5,361.5 L271.3,360.4 L276.2,359.6 L280.0,361.0 L285.8,363.8 L291.5,366.7 L296.3,365.8 L303.0,369.2 L308.8,371.9 L316.5,376.3 L324.2,382.0 L329.6,386.0 L339.2,391.7 L346.9,396.5 L354.6,401.3 L358.5,402.3 L362.3,402.3 L370.0,407.1 L372.0,407.4 L383.5,413.8 L387.3,414.8 L390.2,415.8 L394.0,417.3" fill="none" stroke="#4f9e35" stroke-width="1.45" stroke-linejoin="round"/>
<text x="240.60" y="350.40" font-size="9.8" text-anchor="start" font-weight="normal" font-style="normal" fill="#1a1a1a" textLength="169.8" lengthAdjust="spacingAndGlyphs">Sanjuan-Pla_Megakaryocyte Progenitor</text>
<text x="258.80" y="416.70" font-size="8.3" text-anchor="start" font-weight="normal" font-style="normal" fill="#1a1a1a" textLength="107" lengthAdjust="spacingAndGlyphs">FDR&lt;0.01, p&lt;0.01, NES=3.98</text>
<text x="246.40" y="456.30" font-size="8.2" text-anchor="start" font-weight="normal" font-style="normal" fill="#1a1a1a" textLength="58.5" lengthAdjust="spacingAndGlyphs">3aKO-140 HSPC</text>
<text x="359.40" y="456.30" font-size="8.2" text-anchor="start" font-weight="normal" font-style="normal" fill="#1a1a1a" textLength="46" lengthAdjust="spacingAndGlyphs">WT-140 MEP</text>
<rect x="247.3" y="493.0" width="151.7" height="88.5" fill="#f7f7f7"/>
<line x1="264.5" y1="493.0" x2="264.5" y2="555.8" stroke="#e6e6e6" stroke-width="0.6"/>
<line x1="283.9" y1="493.0" x2="283.9" y2="555.8" stroke="#e6e6e6" stroke-width="0.6"/>
<line x1="303.2" y1="493.0" x2="303.2" y2="555.8" stroke="#e6e6e6" stroke-width="0.6"/>
<line x1="322.6" y1="493.0" x2="322.6" y2="555.8" stroke="#e6e6e6" stroke-width="0.6"/>
<line x1="341.9" y1="493.0" x2="341.9" y2="555.8" stroke="#e6e6e6" stroke-width="0.6"/>
<line x1="361.2" y1="493.0" x2="361.2" y2="555.8" stroke="#e6e6e6" stroke-width="0.6"/>
<line x1="380.6" y1="493.0" x2="380.6" y2="555.8" stroke="#e6e6e6" stroke-width="0.6"/>
<line x1="247.3" y1="550.5" x2="399.0" y2="550.5" stroke="#e2e2e2" stroke-width="0.6"/>
<line x1="247.3" y1="539.7" x2="399.0" y2="539.7" stroke="#e2e2e2" stroke-width="0.6"/>
<line x1="247.3" y1="528.9" x2="399.0" y2="528.9" stroke="#e2e2e2" stroke-width="0.6"/>
<line x1="247.3" y1="518.1" x2="399.0" y2="518.1" stroke="#e2e2e2" stroke-width="0.6"/>
<line x1="247.3" y1="507.3" x2="399.0" y2="507.3" stroke="#e2e2e2" stroke-width="0.6"/>
<line x1="247.3" y1="496.5" x2="399.0" y2="496.5" stroke="#e2e2e2" stroke-width="0.6"/>
<line x1="247.3" y1="553.5" x2="399.0" y2="553.5" stroke="#d0d0d0" stroke-width="0.7"/>
<rect x="247.8" y="555.8" width="143.8" height="20.800000000000068" fill="#f8f8f8"/>
<line x1="247.3" y1="555.8" x2="399.0" y2="555.8" stroke="#c8c8c8" stroke-width="0.8"/>
<rect x="253.80" y="556.20" width="1.00" height="20.40" fill="#999"/>
<rect x="270.90" y="556.20" width="1.00" height="20.40" fill="#777"/>
<rect x="278.20" y="556.20" width="1.00" height="20.40" fill="#777"/>
<rect x="280.30" y="556.20" width="1.50" height="20.40" fill="#aaa"/>
<rect x="285.80" y="556.20" width="1.00" height="20.40" fill="#aaa"/>
<rect x="287.70" y="556.20" width="1.00" height="20.40" fill="#888"/>
<rect x="292.00" y="556.20" width="1.00" height="20.40" fill="#777"/>
<rect x="300.00" y="556.20" width="1.00" height="20.40" fill="#999"/>
<rect x="303.10" y="556.20" width="1.00" height="20.40" fill="#aaa"/>
<rect x="308.90" y="556.20" width="1.00" height="20.40" fill="#888"/>
<rect x="312.00" y="556.20" width="1.50" height="20.40" fill="#333"/>
<rect x="314.80" y="556.20" width="1.50" height="20.40" fill="#444"/>
<rect x="320.00" y="556.20" width="1.00" height="20.40" fill="#bbb"/>
<rect x="322.00" y="556.20" width="2.00" height="20.40" fill="#666"/>
<rect x="324.00" y="556.20" width="1.50" height="20.40" fill="#bbb"/>
<rect x="325.50" y="556.20" width="2.30" height="20.40" fill="#ddd"/>
<rect x="327.80" y="556.20" width="1.50" height="20.40" fill="#000"/>
<rect x="329.30" y="556.20" width="1.50" height="20.40" fill="#ddd"/>
<rect x="330.80" y="556.20" width="1.20" height="20.40" fill="#333"/>
<rect x="335.80" y="556.20" width="3.90" height="20.40" fill="#999"/>
<rect x="339.70" y="556.20" width="1.50" height="20.40" fill="#000"/>
<rect x="341.20" y="556.20" width="3.10" height="20.40" fill="#bbb"/>
<rect x="345.80" y="556.20" width="2.00" height="20.40" fill="#222"/>
<rect x="348.50" y="556.20" width="4.70" height="20.40" fill="#b4b4b4"/>
<rect x="353.20" y="556.20" width="3.00" height="20.40" fill="#000"/>
<rect x="358.20" y="556.20" width="2.80" height="20.40" fill="#888"/>
<rect x="361.00" y="556.20" width="1.20" height="20.40" fill="#333"/>
<rect x="362.20" y="556.20" width="1.20" height="20.40" fill="#ccc"/>
<rect x="363.40" y="556.20" width="1.50" height="20.40" fill="#666"/>
<rect x="366.50" y="556.20" width="4.20" height="20.40" fill="#999"/>
<rect x="370.70" y="556.20" width="3.50" height="20.40" fill="#888"/>
<rect x="374.20" y="556.20" width="1.50" height="20.40" fill="#bbb"/>
<rect x="375.70" y="556.20" width="1.90" height="20.40" fill="#aaa"/>
<rect x="378.00" y="556.20" width="1.20" height="20.40" fill="#000"/>
<rect x="381.00" y="556.20" width="2.00" height="20.40" fill="#222"/>
<rect x="383.00" y="556.20" width="1.50" height="20.40" fill="#ccc"/>
<rect x="384.50" y="556.20" width="1.50" height="20.40" fill="#777"/>
<rect x="386.00" y="556.20" width="5.50" height="20.40" fill="#080808"/>
<rect x="247.70" y="576.6" width="6.92" height="4.899999999999977" fill="#d43a3a"/>
<rect x="254.32" y="576.6" width="17.42" height="4.899999999999977" fill="#d84a4a"/>
<rect x="271.44" y="576.6" width="9.65" height="4.899999999999977" fill="#dc6670"/>
<rect x="280.80" y="576.6" width="13.25" height="4.899999999999977" fill="#e07c7e"/>
<rect x="293.75" y="576.6" width="17.57" height="4.899999999999977" fill="#eab4d6"/>
<rect x="311.02" y="576.6" width="16.13" height="4.899999999999977" fill="#d2d2f0"/>
<rect x="326.85" y="576.6" width="7.49" height="4.899999999999977" fill="#c6c6ec"/>
<rect x="334.04" y="576.6" width="14.69" height="4.899999999999977" fill="#b8b6e2"/>
<rect x="348.43" y="576.6" width="11.81" height="4.899999999999977" fill="#7c7cc6"/>
<rect x="359.94" y="576.6" width="21.89" height="4.899999999999977" fill="#5a46a8"/>
<rect x="381.53" y="576.6" width="10.37" height="4.899999999999977" fill="#3e2a8e"/>
<line x1="247.3" y1="493.0" x2="399.0" y2="493.0" stroke="#e2dfcc" stroke-width="1"/>
<line x1="247.3" y1="493.0" x2="247.3" y2="581.5" stroke="#d8d4bc" stroke-width="0.9"/>
<rect x="398.5" y="493.0" width="2.4" height="88.5" fill="#ece8d6"/>
<path d="M247.3,493.5 L251.0,496.5 L254.0,498.5 L255.0,498.2 L258.0,501.0 L262.7,504.6 L266.0,507.5 L270.4,510.8 L274.0,513.5 L278.0,517.0 L282.0,519.0 L286.7,522.0 L291.0,525.8 L295.4,529.6 L300.0,533.0 L304.0,536.3 L308.0,539.0 L312.7,541.5 L316.0,543.2 L319.4,545.0 L323.0,546.0 L327.7,547.9 L331.0,549.2 L335.4,550.8 L339.0,551.0 L343.0,550.4 L347.0,548.8 L350.8,550.8 L354.0,550.6 L358.5,549.2 L364.2,547.9 L371.0,547.0 L374.8,543.0 L377.7,539.2 L380.6,538.3 L382.0,529.6 L386.3,527.7 L388.3,518.0 L390.2,506.5 L391.5,495.0 L392.1,492.7" fill="none" stroke="#4f9e35" stroke-width="1.45" stroke-linejoin="round"/>
<text x="238.00" y="487.00" font-size="9.8" text-anchor="start" font-weight="normal" font-style="normal" fill="#1a1a1a" textLength="175.7" lengthAdjust="spacingAndGlyphs">Ivanova_Hematopoiesis_Late_Progenitor</text>
<text x="258.80" y="551.80" font-size="8.3" text-anchor="start" font-weight="normal" font-style="normal" fill="#1a1a1a" textLength="109" lengthAdjust="spacingAndGlyphs">FDR&lt;0.01,p&lt;0.01, NES= -2.94</text>
<text x="246.40" y="591.90" font-size="8.2" text-anchor="start" font-weight="normal" font-style="normal" fill="#1a1a1a" textLength="58.5" lengthAdjust="spacingAndGlyphs">3aKO-140 HSPC</text>
<text x="359.40" y="591.90" font-size="8.2" text-anchor="start" font-weight="normal" font-style="normal" fill="#1a1a1a" textLength="46" lengthAdjust="spacingAndGlyphs">WT-140 MEP</text>
<rect x="0.5" y="0.5" width="519" height="600" fill="none" stroke="#000" stroke-width="1.2"/>
</svg></div></body></html>
